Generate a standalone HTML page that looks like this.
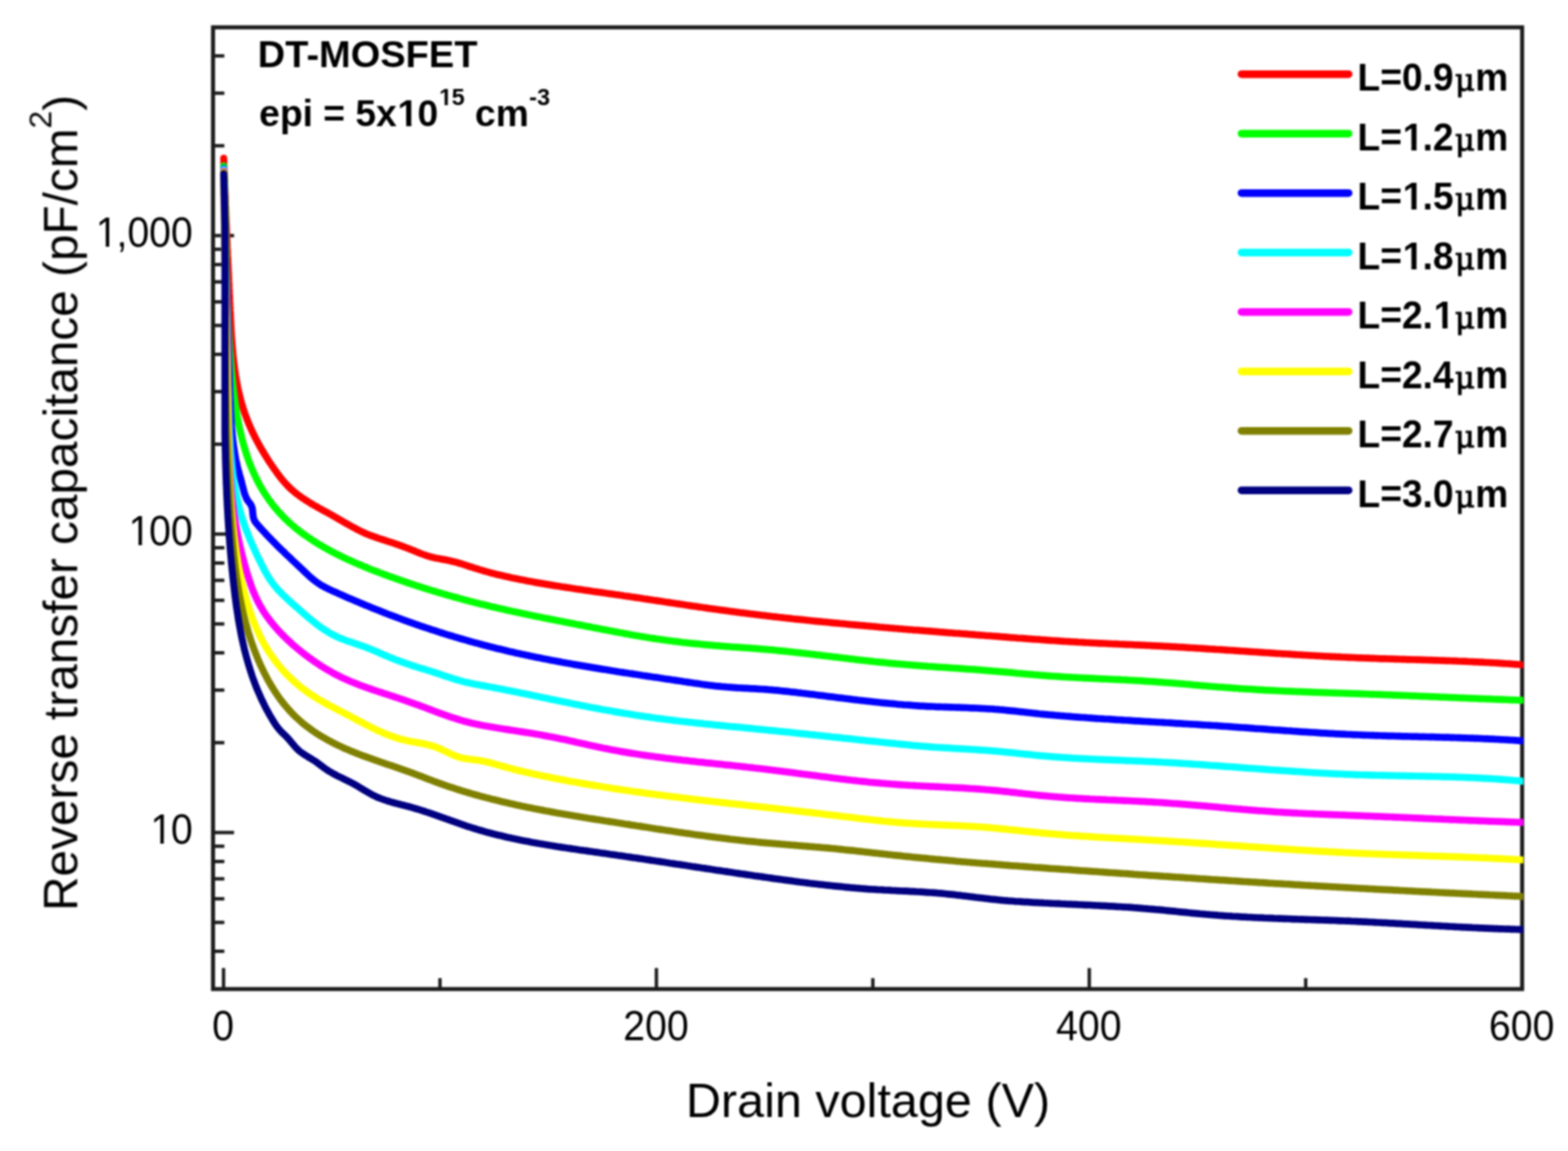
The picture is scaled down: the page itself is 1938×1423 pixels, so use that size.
<!DOCTYPE html>
<html lang="en"><head><meta charset="utf-8"><title>Reverse transfer capacitance vs drain voltage</title>
<style>html,body{margin:0;padding:0;background:#fff;}body{width:1938px;height:1423px;overflow:hidden;}svg{display:block;}text{font-family:"Liberation Sans",Arial,Helvetica,sans-serif;fill:#000;}.b{font-weight:bold;}.mu{font-family:"DejaVu Serif","Liberation Serif",serif;font-weight:normal;stroke:#000;stroke-width:1px;}</style></head><body>
<svg width="1938" height="1423" viewBox="0 0 1938 1423" role="img" aria-label="Reverse transfer capacitance versus drain voltage for DT-MOSFET">
<defs><clipPath id="pc"><rect x="260.8" y="31.3" width="1622.0" height="1194.0"/></clipPath><filter id="bl" x="-2%" y="-2%" width="104%" height="104%" color-interpolation-filters="sRGB"><feGaussianBlur stdDeviation="1.25"/></filter></defs>
<rect width="1938" height="1423" fill="#fff"/>
<g filter="url(#bl)">
<rect x="263.3" y="33.8" width="1618.0" height="1189.0" fill="none" stroke="#1c1c1c" stroke-width="5.0"/>
<g stroke="#1c1c1c" stroke-width="4.2" fill="none">
<line x1="276.3" y1="1222.8" x2="276.3" y2="1196.8"/>
<line x1="811.3" y1="1222.8" x2="811.3" y2="1196.8"/>
<line x1="1346.3" y1="1222.8" x2="1346.3" y2="1196.8"/>
<line x1="543.8" y1="1222.8" x2="543.8" y2="1209.3"/>
<line x1="1078.8" y1="1222.8" x2="1078.8" y2="1209.3"/>
<line x1="1613.8" y1="1222.8" x2="1613.8" y2="1209.3"/>
<line x1="263.3" y1="1029.3" x2="289.3" y2="1029.3"/>
<line x1="263.3" y1="660.3" x2="289.3" y2="660.3"/>
<line x1="263.3" y1="291.3" x2="289.3" y2="291.3"/>
<line x1="263.3" y1="1176.1" x2="277.3" y2="1176.1"/>
<line x1="263.3" y1="1140.4" x2="277.3" y2="1140.4"/>
<line x1="263.3" y1="1111.2" x2="277.3" y2="1111.2"/>
<line x1="263.3" y1="1086.5" x2="277.3" y2="1086.5"/>
<line x1="263.3" y1="1065.1" x2="277.3" y2="1065.1"/>
<line x1="263.3" y1="1046.2" x2="277.3" y2="1046.2"/>
<line x1="263.3" y1="918.2" x2="277.3" y2="918.2"/>
<line x1="263.3" y1="853.2" x2="277.3" y2="853.2"/>
<line x1="263.3" y1="807.1" x2="277.3" y2="807.1"/>
<line x1="263.3" y1="771.4" x2="277.3" y2="771.4"/>
<line x1="263.3" y1="742.2" x2="277.3" y2="742.2"/>
<line x1="263.3" y1="717.5" x2="277.3" y2="717.5"/>
<line x1="263.3" y1="696.1" x2="277.3" y2="696.1"/>
<line x1="263.3" y1="677.2" x2="277.3" y2="677.2"/>
<line x1="263.3" y1="549.2" x2="277.3" y2="549.2"/>
<line x1="263.3" y1="484.2" x2="277.3" y2="484.2"/>
<line x1="263.3" y1="438.1" x2="277.3" y2="438.1"/>
<line x1="263.3" y1="402.4" x2="277.3" y2="402.4"/>
<line x1="263.3" y1="373.2" x2="277.3" y2="373.2"/>
<line x1="263.3" y1="348.5" x2="277.3" y2="348.5"/>
<line x1="263.3" y1="327.1" x2="277.3" y2="327.1"/>
<line x1="263.3" y1="308.2" x2="277.3" y2="308.2"/>
<line x1="263.3" y1="180.2" x2="277.3" y2="180.2"/>
<line x1="263.3" y1="115.2" x2="277.3" y2="115.2"/>
<line x1="263.3" y1="69.1" x2="277.3" y2="69.1"/>
</g>
<g font-size="48.5">
<text transform="translate(236.7 1042.9) scale(1 1.05)" text-anchor="end"><tspan class="o" dx="1.6">1</tspan><tspan dx="-1.6">0</tspan></text>
<text transform="translate(236.7 673.9) scale(1 1.05)" text-anchor="end"><tspan class="o" dx="1.6">1</tspan><tspan dx="-1.6">00</tspan></text>
<text transform="translate(236.7 304.9) scale(1 1.05)" text-anchor="end"><tspan class="o" dx="1.6">1</tspan><tspan dx="-1.6">,000</tspan></text>
<text transform="translate(275.7 1286.3) scale(1 1.05)" text-anchor="middle">0</text>
<text transform="translate(810.7 1286.3) scale(1 1.05)" text-anchor="middle">200</text>
<text transform="translate(1345.7 1286.3) scale(1 1.05)" text-anchor="middle">400</text>
<text transform="translate(1880.7 1286.3) scale(1 1.05)" text-anchor="middle">600</text>
</g>
<text x="1072.8" y="1380.8" font-size="60" text-anchor="middle">Drain voltage (V)</text>
<text transform="translate(95.4 1126.2) rotate(-90)" font-size="59">Reverse transfer capacitance (pF/cm<tspan font-size="39.5" dy="-32">2</tspan><tspan dy="32">)</tspan></text>
<text class="b" x="318.6" y="83.3" font-size="47">DT-MOSFET</text>
<text class="b" x="320.3" y="155.9" font-size="46">epi = 5x<tspan class="o" dx="1">1</tspan><tspan dx="-1">0</tspan><tspan class="o" font-size="29" dy="-26" dx="1.2">1</tspan><tspan font-size="29" dx="-0.7">5</tspan><tspan dy="26"> cm</tspan><tspan font-size="29" dy="-26" dx="0.5">-3</tspan></text>
<g clip-path="url(#pc)" fill="none" stroke-width="8.7" stroke-linejoin="round" stroke-linecap="round">
<path stroke="#ff0000" d="M276.5 195.5L276.6 198.5L276.7 201.5L276.8 204.5L276.9 207.5L277.0 210.5L277.1 213.5L277.2 216.5L277.4 219.5L277.5 222.5L277.6 225.5L277.7 228.5L277.8 231.5L277.9 234.5L278.0 237.5L278.2 240.5L278.3 243.5L278.4 246.5L278.5 249.5L278.6 252.5L278.8 255.5L278.9 258.5L279.0 261.4L279.1 264.4L279.2 267.4L279.4 270.4L279.5 273.4L279.6 276.4L279.8 279.4L279.9 282.3L280.0 285.3L280.1 288.3L280.3 291.3L280.4 294.3L280.5 297.3L280.7 300.2L280.8 303.2L280.9 306.2L281.1 309.2L281.2 312.2L281.3 315.2L281.5 318.1L281.6 321.1L281.7 324.1L281.9 327.1L282.0 330.1L282.1 333.1L282.3 336.1L282.4 339.1L282.6 342.0L282.7 345.0L282.8 348.0L283.0 351.0L283.1 354.0L283.2 357.0L283.4 360.0L283.5 363.0L283.7 366.0L283.8 369.0L283.9 372.0L284.1 375.0L284.2 378.0L284.4 381.0L284.5 384.0L284.7 387.0L284.8 390.1L284.9 393.1L285.1 396.1L285.2 399.1L285.4 402.1L285.6 405.1L285.7 408.1L285.9 411.1L286.1 414.2L286.3 417.2L286.5 420.2L286.7 423.2L286.9 426.2L287.2 429.2L287.4 432.2L287.7 435.2L288.0 438.2L288.2 441.2L288.6 444.2L288.9 447.1L289.2 450.1L289.6 453.1L290.0 456.1L290.4 459.0L290.9 462.0L291.3 464.9L291.8 467.9L292.3 470.8L292.9 473.7L293.4 476.7L294.0 479.6L294.6 482.5L295.3 485.4L296.0 488.3L296.7 491.2L297.4 494.1L298.2 496.9L299.0 499.8L299.9 502.6L300.7 505.5L301.7 508.3L302.6 511.1L303.6 513.9L304.7 516.7L305.7 519.5L306.9 522.3L308.0 525.1L309.2 527.8L310.4 530.6L311.7 533.3L313.0 536.0L314.3 538.7L315.6 541.4L317.0 544.1L318.4 546.7L319.9 549.4L321.3 552.0L322.8 554.6L324.4 557.3L325.9 559.8L327.5 562.4L329.1 565.0L330.7 567.5L332.3 570.1L334.0 572.6L335.7 575.1L337.4 577.6L339.1 580.1L340.9 582.5L342.6 584.9L344.4 587.4L346.2 589.7L348.1 592.1L350.0 594.4L351.9 596.6L353.9 598.8L355.9 601.0L358.0 603.0L360.2 605.1L362.4 607.0L364.7 608.9L367.0 610.8L369.4 612.5L371.8 614.3L374.3 616.0L376.8 617.6L379.3 619.3L381.9 620.9L384.4 622.4L387.0 624.0L389.7 625.5L392.3 627.0L394.9 628.5L397.6 629.9L400.2 631.4L402.9 632.8L405.5 634.3L408.2 635.8L410.8 637.2L413.4 638.7L416.0 640.2L418.6 641.7L421.2 643.2L423.8 644.7L426.3 646.2L428.9 647.7L431.5 649.1L434.1 650.6L436.7 652.0L439.4 653.4L442.0 654.8L444.7 656.1L447.4 657.5L450.1 658.7L452.8 659.9L455.6 661.1L458.4 662.2L461.2 663.2L464.0 664.2L466.8 665.2L469.7 666.1L472.5 667.0L475.4 667.9L478.2 668.9L481.1 669.8L483.9 670.7L486.8 671.7L489.6 672.6L492.5 673.6L495.3 674.6L498.1 675.6L500.9 676.7L503.7 677.8L506.5 678.9L509.3 680.0L512.1 681.1L514.8 682.3L517.6 683.4L520.4 684.5L523.2 685.5L526.0 686.5L528.8 687.4L531.7 688.3L534.5 689.0L537.4 689.7L540.4 690.3L543.3 690.8L546.2 691.4L549.2 691.9L552.1 692.4L555.0 693.0L557.9 693.7L560.8 694.4L563.7 695.1L566.6 696.0L569.4 696.8L572.3 697.7L575.1 698.6L578.0 699.6L580.8 700.5L583.7 701.4L586.6 702.3L589.4 703.2L592.3 704.1L595.1 704.9L598.0 705.8L600.9 706.6L603.8 707.4L606.7 708.2L609.6 708.9L612.5 709.7L615.4 710.4L618.3 711.1L621.2 711.8L624.2 712.5L627.1 713.1L630.0 713.8L633.0 714.4L635.9 715.0L638.8 715.6L641.8 716.2L644.7 716.8L647.7 717.3L650.6 717.9L653.6 718.5L656.5 719.0L659.5 719.6L662.4 720.1L665.4 720.6L668.3 721.1L671.3 721.6L674.2 722.1L677.2 722.6L680.1 723.1L683.1 723.6L686.0 724.1L689.0 724.5L692.0 725.0L694.9 725.5L697.9 725.9L700.8 726.4L703.8 726.8L706.8 727.3L709.7 727.7L712.7 728.2L715.7 728.6L718.6 729.0L721.6 729.5L724.6 729.9L727.5 730.3L730.5 730.7L733.5 731.2L736.4 731.6L739.4 732.0L742.4 732.4L745.3 732.8L748.3 733.3L751.3 733.7L754.2 734.1L757.2 734.5L760.2 735.0L763.1 735.4L766.1 735.8L769.0 736.2L772.0 736.7L775.0 737.1L777.9 737.5L780.9 738.0L783.9 738.4L786.8 738.9L789.8 739.3L792.8 739.7L795.7 740.2L798.7 740.6L801.7 741.1L804.6 741.5L807.6 742.0L810.6 742.4L813.5 742.9L816.5 743.3L819.4 743.7L822.4 744.2L825.4 744.6L828.3 745.1L831.3 745.5L834.3 746.0L837.2 746.4L840.2 746.9L843.2 747.3L846.1 747.7L849.1 748.2L852.1 748.6L855.0 749.1L858.0 749.5L861.0 749.9L863.9 750.4L866.9 750.8L869.9 751.2L872.8 751.6L875.8 752.1L878.8 752.5L881.7 752.9L884.7 753.3L887.7 753.7L890.6 754.1L893.6 754.5L896.6 754.9L899.5 755.3L902.5 755.7L905.5 756.1L908.5 756.5L911.4 756.9L914.4 757.3L917.4 757.6L920.3 758.0L923.3 758.4L926.3 758.8L929.3 759.1L932.2 759.5L935.2 759.9L938.2 760.2L941.2 760.6L944.1 760.9L947.1 761.3L950.1 761.6L953.1 762.0L956.1 762.3L959.0 762.6L962.0 763.0L965.0 763.3L968.0 763.7L970.9 764.0L973.9 764.3L976.9 764.6L979.9 765.0L982.9 765.3L985.8 765.6L988.8 765.9L991.8 766.2L994.8 766.5L997.8 766.8L1000.7 767.2L1003.7 767.5L1006.7 767.8L1009.7 768.1L1012.7 768.4L1015.6 768.7L1018.6 769.0L1021.6 769.2L1024.6 769.5L1027.6 769.8L1030.6 770.1L1033.5 770.4L1036.5 770.7L1039.5 771.0L1042.5 771.2L1045.5 771.5L1048.5 771.8L1051.4 772.1L1054.4 772.3L1057.4 772.6L1060.4 772.9L1063.4 773.2L1066.4 773.4L1069.4 773.7L1072.3 774.0L1075.3 774.2L1078.3 774.5L1081.3 774.7L1084.3 775.0L1087.3 775.3L1090.3 775.5L1093.2 775.8L1096.2 776.0L1099.2 776.3L1102.2 776.5L1105.2 776.8L1108.2 777.0L1111.2 777.3L1114.1 777.5L1117.1 777.8L1120.1 778.0L1123.1 778.3L1126.1 778.5L1129.1 778.8L1132.1 779.0L1135.1 779.2L1138.0 779.5L1141.0 779.7L1144.0 780.0L1147.0 780.2L1150.0 780.4L1153.0 780.7L1156.0 780.9L1159.0 781.1L1162.0 781.4L1164.9 781.6L1167.9 781.8L1170.9 782.1L1173.9 782.3L1176.9 782.5L1179.9 782.8L1182.9 783.0L1185.9 783.2L1188.8 783.5L1191.8 783.7L1194.8 783.9L1197.8 784.2L1200.8 784.4L1203.8 784.6L1206.8 784.9L1209.8 785.1L1212.8 785.3L1215.7 785.5L1218.7 785.8L1221.7 786.0L1224.7 786.2L1227.7 786.5L1230.7 786.7L1233.7 786.9L1236.7 787.2L1239.6 787.4L1242.6 787.6L1245.6 787.8L1248.6 788.1L1251.6 788.3L1254.6 788.5L1257.6 788.8L1260.6 789.0L1263.6 789.2L1266.5 789.4L1269.5 789.7L1272.5 789.9L1275.5 790.1L1278.5 790.3L1281.5 790.5L1284.5 790.7L1287.5 791.0L1290.5 791.2L1293.4 791.4L1296.4 791.6L1299.4 791.8L1302.4 792.0L1305.4 792.2L1308.4 792.4L1311.4 792.6L1314.4 792.8L1317.4 793.0L1320.4 793.1L1323.3 793.3L1326.3 793.5L1329.3 793.7L1332.3 793.9L1335.3 794.0L1338.3 794.2L1341.3 794.4L1344.3 794.5L1347.3 794.7L1350.3 794.8L1353.3 795.0L1356.3 795.1L1359.2 795.3L1362.2 795.4L1365.2 795.5L1368.2 795.7L1371.2 795.8L1374.2 796.0L1377.2 796.1L1380.2 796.2L1383.2 796.4L1386.2 796.5L1389.2 796.6L1392.2 796.8L1395.2 796.9L1398.2 797.0L1401.2 797.2L1404.1 797.3L1407.1 797.4L1410.1 797.6L1413.1 797.7L1416.1 797.8L1419.1 798.0L1422.1 798.1L1425.1 798.3L1428.1 798.4L1431.1 798.6L1434.1 798.7L1437.1 798.9L1440.1 799.1L1443.0 799.2L1446.0 799.4L1449.0 799.6L1452.0 799.7L1455.0 799.9L1458.0 800.1L1461.0 800.2L1464.0 800.4L1467.0 800.6L1470.0 800.8L1473.0 801.0L1476.0 801.1L1478.9 801.3L1481.9 801.5L1484.9 801.7L1487.9 801.9L1490.9 802.1L1493.9 802.3L1496.9 802.5L1499.9 802.7L1502.9 802.9L1505.9 803.0L1508.8 803.2L1511.8 803.4L1514.8 803.6L1517.8 803.8L1520.8 804.0L1523.8 804.2L1526.8 804.4L1529.8 804.6L1532.8 804.8L1535.8 805.0L1538.8 805.2L1541.7 805.4L1544.7 805.6L1547.7 805.8L1550.7 806.0L1553.7 806.2L1556.7 806.4L1559.7 806.6L1562.7 806.8L1565.7 807.0L1568.7 807.2L1571.6 807.4L1574.6 807.6L1577.6 807.8L1580.6 808.0L1583.6 808.2L1586.6 808.3L1589.6 808.5L1592.6 808.7L1595.6 808.9L1598.6 809.1L1601.6 809.3L1604.5 809.5L1607.5 809.6L1610.5 809.8L1613.5 810.0L1616.5 810.2L1619.5 810.3L1622.5 810.5L1625.5 810.7L1628.5 810.8L1631.5 811.0L1634.5 811.2L1637.5 811.3L1640.5 811.5L1643.4 811.6L1646.4 811.8L1649.4 811.9L1652.4 812.1L1655.4 812.2L1658.4 812.4L1661.4 812.5L1664.4 812.6L1667.4 812.8L1670.4 812.9L1673.4 813.0L1676.4 813.2L1679.4 813.3L1682.4 813.4L1685.4 813.5L1688.4 813.6L1691.4 813.7L1694.4 813.8L1697.3 813.9L1700.3 814.0L1703.3 814.2L1706.3 814.3L1709.3 814.3L1712.3 814.4L1715.3 814.5L1718.3 814.6L1721.3 814.7L1724.3 814.8L1727.3 814.9L1730.3 815.0L1733.3 815.1L1736.3 815.2L1739.3 815.3L1742.3 815.4L1745.3 815.5L1748.3 815.5L1751.3 815.6L1754.3 815.7L1757.3 815.8L1760.3 815.9L1763.3 816.0L1766.3 816.1L1769.3 816.2L1772.3 816.3L1775.3 816.4L1778.3 816.5L1781.2 816.6L1784.2 816.7L1787.2 816.8L1790.2 816.9L1793.2 817.0L1796.2 817.1L1799.2 817.2L1802.2 817.4L1805.2 817.5L1808.2 817.6L1811.2 817.7L1814.2 817.9L1817.2 818.0L1820.2 818.1L1823.2 818.3L1826.2 818.4L1829.2 818.6L1832.2 818.7L1835.1 818.9L1838.1 819.0L1841.1 819.2L1844.1 819.3L1847.1 819.5L1850.1 819.7L1853.1 819.9L1856.1 820.1L1859.1 820.3L1862.1 820.5L1865.1 820.7L1868.1 820.9L1871.0 821.1L1874.0 821.3L1877.0 821.5L1880.0 821.8L1883.0 822.0"/>
<path stroke="#00ff00" d="M276.5 205.0L276.6 208.0L276.7 211.0L276.9 214.0L277.0 217.0L277.1 220.0L277.2 223.0L277.3 226.0L277.4 229.0L277.5 232.0L277.6 235.0L277.7 238.0L277.8 241.0L277.8 244.0L277.9 247.0L278.0 250.0L278.1 253.0L278.1 256.0L278.2 258.9L278.3 261.9L278.4 264.9L278.4 267.9L278.5 270.9L278.6 273.9L278.6 276.9L278.7 279.9L278.7 282.9L278.8 285.9L278.9 288.9L278.9 291.9L279.0 294.9L279.0 297.9L279.1 300.9L279.2 303.9L279.2 306.9L279.3 309.9L279.3 312.9L279.4 315.9L279.5 318.9L279.5 321.9L279.6 324.9L279.7 327.9L279.7 330.9L279.8 333.9L279.9 336.9L280.0 339.9L280.0 342.9L280.1 345.9L280.2 348.9L280.3 351.9L280.4 354.9L280.4 357.9L280.5 360.9L280.6 363.9L280.7 366.9L280.8 369.9L280.9 372.9L281.0 375.9L281.2 378.9L281.3 381.9L281.4 384.9L281.5 387.9L281.7 390.9L281.8 393.9L281.9 396.9L282.1 399.9L282.2 402.9L282.4 405.8L282.5 408.8L282.7 411.8L282.9 414.8L283.0 417.8L283.2 420.8L283.4 423.8L283.6 426.8L283.8 429.8L284.0 432.8L284.2 435.8L284.5 438.7L284.7 441.7L284.9 444.7L285.2 447.7L285.4 450.7L285.7 453.7L285.9 456.7L286.2 459.7L286.5 462.6L286.8 465.6L287.1 468.6L287.4 471.6L287.7 474.6L288.0 477.5L288.4 480.5L288.7 483.5L289.1 486.5L289.4 489.5L289.8 492.4L290.2 495.4L290.6 498.4L291.0 501.3L291.5 504.3L291.9 507.3L292.4 510.2L292.9 513.2L293.4 516.1L294.0 519.1L294.5 522.0L295.1 525.0L295.7 527.9L296.3 530.9L297.0 533.8L297.7 536.7L298.4 539.6L299.1 542.5L299.9 545.5L300.7 548.4L301.5 551.3L302.3 554.2L303.2 557.0L304.1 559.9L305.0 562.8L306.0 565.6L307.0 568.5L308.0 571.3L309.1 574.1L310.2 576.9L311.4 579.7L312.5 582.4L313.8 585.2L315.0 587.9L316.3 590.6L317.6 593.3L319.0 596.0L320.4 598.6L321.8 601.2L323.3 603.8L324.9 606.4L326.4 608.9L328.1 611.4L329.7 613.9L331.4 616.4L333.1 618.8L334.9 621.2L336.7 623.6L338.6 625.9L340.5 628.2L342.4 630.5L344.3 632.7L346.3 634.9L348.4 637.1L350.5 639.3L352.6 641.4L354.7 643.4L356.9 645.5L359.1 647.5L361.4 649.4L363.6 651.4L365.9 653.3L368.3 655.2L370.6 657.0L373.0 658.8L375.5 660.6L377.9 662.3L380.4 664.0L382.9 665.7L385.4 667.4L387.9 669.0L390.4 670.6L393.0 672.2L395.6 673.8L398.2 675.3L400.8 676.8L403.4 678.3L406.1 679.7L408.7 681.2L411.4 682.6L414.0 684.0L416.7 685.3L419.4 686.7L422.1 688.0L424.8 689.3L427.5 690.6L430.2 691.9L433.0 693.1L435.7 694.3L438.4 695.6L441.2 696.8L443.9 697.9L446.7 699.1L449.5 700.3L452.2 701.4L455.0 702.5L457.8 703.7L460.6 704.8L463.4 705.8L466.2 706.9L469.0 708.0L471.8 709.0L474.6 710.1L477.4 711.1L480.2 712.2L483.0 713.2L485.8 714.2L488.6 715.2L491.5 716.2L494.3 717.2L497.1 718.2L500.0 719.1L502.8 720.1L505.6 721.1L508.5 722.0L511.3 722.9L514.2 723.9L517.0 724.8L519.9 725.7L522.7 726.6L525.6 727.5L528.5 728.4L531.3 729.3L534.2 730.2L537.1 731.0L539.9 731.9L542.8 732.8L545.7 733.6L548.6 734.4L551.4 735.3L554.3 736.1L557.2 736.9L560.1 737.7L563.0 738.5L565.9 739.3L568.8 740.1L571.7 740.9L574.6 741.7L577.5 742.4L580.4 743.2L583.3 743.9L586.2 744.7L589.1 745.4L592.0 746.2L594.9 746.9L597.8 747.6L600.7 748.3L603.6 749.0L606.6 749.7L609.5 750.4L612.4 751.1L615.3 751.8L618.2 752.4L621.2 753.1L624.1 753.7L627.0 754.4L629.9 755.1L632.9 755.7L635.8 756.3L638.7 757.0L641.7 757.6L644.6 758.2L647.5 758.8L650.5 759.5L653.4 760.1L656.3 760.7L659.3 761.3L662.2 761.9L665.1 762.5L668.1 763.1L671.0 763.7L674.0 764.3L676.9 764.9L679.8 765.4L682.8 766.0L685.7 766.6L688.7 767.2L691.6 767.8L694.6 768.3L697.5 768.9L700.4 769.5L703.4 770.1L706.3 770.6L709.3 771.2L712.2 771.8L715.2 772.4L718.1 772.9L721.1 773.5L724.0 774.1L727.0 774.6L729.9 775.2L732.8 775.8L735.8 776.4L738.7 776.9L741.7 777.5L744.6 778.1L747.6 778.6L750.5 779.2L753.5 779.8L756.4 780.3L759.4 780.9L762.3 781.4L765.3 782.0L768.2 782.5L771.2 783.1L774.1 783.6L777.1 784.2L780.0 784.7L783.0 785.2L785.9 785.7L788.9 786.2L791.8 786.7L794.8 787.2L797.7 787.7L800.7 788.2L803.7 788.7L806.6 789.1L809.6 789.6L812.5 790.0L815.5 790.5L818.5 790.9L821.4 791.3L824.4 791.7L827.4 792.1L830.4 792.5L833.3 792.9L836.3 793.2L839.3 793.6L842.3 794.0L845.2 794.3L848.2 794.7L851.2 795.0L854.2 795.3L857.2 795.6L860.1 795.9L863.1 796.2L866.1 796.5L869.1 796.8L872.1 797.1L875.1 797.4L878.0 797.6L881.0 797.9L884.0 798.2L887.0 798.4L890.0 798.6L893.0 798.9L896.0 799.1L899.0 799.3L902.0 799.5L905.0 799.8L907.9 800.0L910.9 800.2L913.9 800.4L916.9 800.6L919.9 800.8L922.9 801.0L925.9 801.2L928.9 801.5L931.9 801.7L934.9 801.9L937.9 802.2L940.9 802.4L943.8 802.7L946.8 802.9L949.8 803.2L952.8 803.4L955.8 803.7L958.8 804.0L961.8 804.3L964.7 804.6L967.7 804.9L970.7 805.2L973.7 805.5L976.7 805.8L979.7 806.2L982.6 806.5L985.6 806.8L988.6 807.1L991.6 807.5L994.6 807.8L997.5 808.2L1000.5 808.5L1003.5 808.9L1006.5 809.2L1009.5 809.6L1012.4 809.9L1015.4 810.3L1018.4 810.6L1021.4 811.0L1024.3 811.4L1027.3 811.7L1030.3 812.1L1033.3 812.4L1036.3 812.8L1039.2 813.2L1042.2 813.5L1045.2 813.9L1048.2 814.2L1051.1 814.6L1054.1 814.9L1057.1 815.3L1060.1 815.6L1063.1 816.0L1066.0 816.3L1069.0 816.7L1072.0 817.0L1075.0 817.3L1078.0 817.6L1080.9 818.0L1083.9 818.3L1086.9 818.6L1089.9 818.9L1092.9 819.2L1095.8 819.5L1098.8 819.8L1101.8 820.1L1104.8 820.4L1107.8 820.7L1110.8 820.9L1113.8 821.2L1116.7 821.4L1119.7 821.7L1122.7 821.9L1125.7 822.2L1128.7 822.4L1131.7 822.7L1134.7 822.9L1137.7 823.1L1140.6 823.3L1143.6 823.5L1146.6 823.8L1149.6 824.0L1152.6 824.2L1155.6 824.4L1158.6 824.6L1161.6 824.8L1164.6 825.0L1167.6 825.2L1170.6 825.4L1173.5 825.6L1176.5 825.8L1179.5 826.0L1182.5 826.2L1185.5 826.4L1188.5 826.6L1191.5 826.9L1194.5 827.1L1197.5 827.3L1200.5 827.5L1203.5 827.7L1206.5 827.9L1209.4 828.1L1212.4 828.4L1215.4 828.6L1218.4 828.8L1221.4 829.1L1224.4 829.3L1227.4 829.6L1230.4 829.8L1233.4 830.1L1236.3 830.3L1239.3 830.6L1242.3 830.9L1245.3 831.2L1248.3 831.4L1251.3 831.7L1254.3 832.0L1257.3 832.3L1260.2 832.5L1263.2 832.8L1266.2 833.1L1269.2 833.4L1272.2 833.6L1275.2 833.9L1278.2 834.2L1281.2 834.4L1284.1 834.7L1287.1 834.9L1290.1 835.1L1293.1 835.4L1296.1 835.6L1299.1 835.8L1302.1 836.0L1305.1 836.2L1308.1 836.4L1311.1 836.6L1314.0 836.8L1317.0 837.0L1320.0 837.2L1323.0 837.3L1326.0 837.5L1329.0 837.6L1332.0 837.8L1335.0 838.0L1338.0 838.1L1341.0 838.3L1344.0 838.4L1347.0 838.6L1350.0 838.7L1353.0 838.8L1356.0 839.0L1359.0 839.1L1362.0 839.3L1364.9 839.4L1367.9 839.5L1370.9 839.7L1373.9 839.8L1376.9 840.0L1379.9 840.1L1382.9 840.2L1385.9 840.4L1388.9 840.5L1391.9 840.7L1394.9 840.9L1397.9 841.0L1400.9 841.2L1403.9 841.3L1406.9 841.5L1409.9 841.7L1412.9 841.9L1415.8 842.1L1418.8 842.3L1421.8 842.5L1424.8 842.7L1427.8 842.9L1430.8 843.1L1433.8 843.3L1436.8 843.5L1439.8 843.8L1442.8 844.0L1445.7 844.2L1448.7 844.5L1451.7 844.7L1454.7 845.0L1457.7 845.2L1460.7 845.5L1463.7 845.7L1466.7 846.0L1469.7 846.2L1472.6 846.5L1475.6 846.8L1478.6 847.0L1481.6 847.3L1484.6 847.5L1487.6 847.8L1490.6 848.0L1493.6 848.3L1496.5 848.5L1499.5 848.8L1502.5 849.0L1505.5 849.3L1508.5 849.5L1511.5 849.7L1514.5 850.0L1517.5 850.2L1520.5 850.4L1523.4 850.6L1526.4 850.8L1529.4 851.0L1532.4 851.3L1535.4 851.5L1538.4 851.7L1541.4 851.8L1544.4 852.0L1547.4 852.2L1550.4 852.4L1553.4 852.6L1556.4 852.8L1559.4 852.9L1562.4 853.1L1565.3 853.3L1568.3 853.4L1571.3 853.6L1574.3 853.7L1577.3 853.9L1580.3 854.0L1583.3 854.2L1586.3 854.3L1589.3 854.5L1592.3 854.6L1595.3 854.7L1598.3 854.8L1601.3 855.0L1604.3 855.1L1607.3 855.2L1610.3 855.3L1613.3 855.4L1616.3 855.6L1619.3 855.7L1622.3 855.8L1625.3 855.9L1628.3 856.0L1631.3 856.1L1634.3 856.2L1637.3 856.3L1640.3 856.4L1643.3 856.5L1646.3 856.6L1649.3 856.7L1652.3 856.8L1655.3 856.9L1658.2 857.0L1661.2 857.1L1664.2 857.2L1667.2 857.3L1670.2 857.4L1673.2 857.5L1676.2 857.6L1679.2 857.7L1682.2 857.8L1685.2 857.9L1688.2 858.0L1691.2 858.2L1694.2 858.3L1697.2 858.4L1700.2 858.5L1703.2 858.6L1706.2 858.7L1709.2 858.8L1712.2 859.0L1715.2 859.1L1718.2 859.2L1721.2 859.3L1724.2 859.4L1727.2 859.6L1730.2 859.7L1733.2 859.8L1736.2 859.9L1739.2 860.0L1742.2 860.2L1745.2 860.3L1748.2 860.4L1751.1 860.5L1754.1 860.7L1757.1 860.8L1760.1 860.9L1763.1 861.0L1766.1 861.2L1769.1 861.3L1772.1 861.4L1775.1 861.5L1778.1 861.7L1781.1 861.8L1784.1 861.9L1787.1 862.0L1790.1 862.2L1793.1 862.3L1796.1 862.4L1799.1 862.5L1802.1 862.7L1805.1 862.8L1808.1 862.9L1811.1 863.0L1814.1 863.2L1817.1 863.3L1820.1 863.4L1823.1 863.5L1826.1 863.6L1829.1 863.8L1832.0 863.9L1835.0 864.0L1838.0 864.1L1841.0 864.2L1844.0 864.4L1847.0 864.5L1850.0 864.6L1853.0 864.7L1856.0 864.8L1859.0 864.9L1862.0 865.0L1865.0 865.2L1868.0 865.3L1871.0 865.4L1874.0 865.5L1877.0 865.6L1880.0 865.7L1883.0 865.8"/>
<path stroke="#0000ff" d="M276.5 208.0L276.5 211.0L276.6 214.0L276.6 217.0L276.7 220.0L276.7 223.0L276.8 226.0L276.8 229.0L276.9 232.0L276.9 235.0L277.0 238.0L277.1 241.0L277.1 244.0L277.2 247.0L277.2 250.0L277.3 253.0L277.4 256.0L277.4 259.0L277.5 262.0L277.6 265.0L277.6 268.0L277.7 271.0L277.8 274.0L277.8 277.0L277.9 280.0L278.0 283.0L278.1 286.0L278.1 289.0L278.2 292.0L278.3 295.0L278.4 298.0L278.4 301.0L278.5 304.0L278.6 307.0L278.7 310.0L278.8 313.0L278.8 316.0L278.9 319.0L279.0 321.9L279.1 324.9L279.2 327.9L279.3 330.9L279.3 333.9L279.4 336.9L279.5 339.9L279.6 342.9L279.7 345.9L279.8 348.9L279.9 351.9L280.0 354.9L280.1 357.9L280.1 360.8L280.2 363.8L280.3 366.8L280.4 369.8L280.5 372.8L280.6 375.8L280.7 378.8L280.8 381.8L280.9 384.8L281.0 387.8L281.1 390.8L281.2 393.8L281.3 396.8L281.4 399.8L281.5 402.8L281.6 405.8L281.6 408.8L281.7 411.8L281.8 414.8L281.9 417.8L282.0 420.7L282.1 423.7L282.2 426.7L282.3 429.7L282.4 432.7L282.5 435.7L282.6 438.7L282.7 441.7L282.8 444.7L282.9 447.7L283.0 450.8L283.1 453.8L283.2 456.8L283.3 459.8L283.4 462.8L283.5 465.8L283.6 468.8L283.7 471.8L283.8 474.8L283.9 477.8L283.9 480.8L284.0 483.8L284.1 486.8L284.2 489.8L284.3 492.8L284.4 495.9L284.6 498.9L284.7 501.9L284.8 504.9L284.9 507.9L285.1 510.9L285.2 513.9L285.4 516.9L285.6 519.9L285.8 522.9L286.0 525.9L286.2 528.9L286.5 531.8L286.8 534.8L287.0 537.8L287.4 540.8L287.7 543.7L288.1 546.7L288.4 549.7L288.9 552.6L289.3 555.6L289.8 558.5L290.3 561.4L290.8 564.4L291.3 567.3L291.9 570.2L292.6 573.1L293.2 576.0L293.9 578.9L294.7 581.8L295.5 584.7L296.2 587.6L297.1 590.5L297.9 593.4L298.7 596.3L299.4 599.3L300.2 602.2L300.9 605.2L301.7 608.2L302.6 611.1L303.6 613.9L304.8 616.5L306.2 619.0L308.0 621.2L309.7 623.4L311.0 625.9L311.8 628.6L312.2 631.6L312.5 634.7L312.8 637.7L313.4 640.7L314.4 643.4L316.0 645.9L317.9 648.2L319.8 650.5L321.8 652.7L323.8 654.9L325.8 657.1L327.9 659.3L329.9 661.5L332.0 663.7L334.1 665.8L336.2 668.0L338.3 670.1L340.4 672.2L342.5 674.4L344.6 676.5L346.8 678.6L348.9 680.6L351.1 682.7L353.2 684.8L355.4 686.9L357.6 688.9L359.8 691.0L361.9 693.1L364.1 695.1L366.3 697.2L368.5 699.3L370.7 701.3L372.9 703.4L375.1 705.5L377.2 707.5L379.4 709.6L381.6 711.7L383.8 713.7L386.1 715.6L388.4 717.5L390.8 719.3L393.2 721.0L395.7 722.7L398.3 724.2L400.9 725.6L403.6 727.0L406.3 728.3L409.0 729.6L411.7 730.9L414.5 732.1L417.3 733.3L420.0 734.6L422.8 735.8L425.5 737.0L428.3 738.2L431.0 739.4L433.8 740.6L436.5 741.8L439.3 742.9L442.0 744.1L444.8 745.3L447.5 746.4L450.3 747.6L453.1 748.7L455.9 749.8L458.6 751.0L461.4 752.1L464.2 753.2L467.0 754.3L469.8 755.4L472.5 756.5L475.3 757.6L478.1 758.7L480.9 759.8L483.7 760.8L486.5 761.9L489.3 762.9L492.2 764.0L495.0 765.0L497.8 766.1L500.6 767.1L503.4 768.1L506.2 769.1L509.1 770.1L511.9 771.1L514.7 772.1L517.6 773.1L520.4 774.1L523.2 775.0L526.1 776.0L528.9 776.9L531.8 777.9L534.6 778.8L537.5 779.7L540.3 780.7L543.2 781.6L546.0 782.5L548.9 783.4L551.8 784.3L554.6 785.2L557.5 786.0L560.4 786.9L563.3 787.8L566.1 788.6L569.0 789.5L571.9 790.3L574.8 791.1L577.6 791.9L580.5 792.8L583.4 793.6L586.3 794.4L589.2 795.1L592.1 795.9L595.0 796.7L597.9 797.5L600.8 798.2L603.7 799.0L606.6 799.7L609.5 800.4L612.4 801.2L615.3 801.9L618.2 802.6L621.1 803.3L624.1 804.0L627.0 804.7L629.9 805.4L632.8 806.0L635.7 806.7L638.7 807.4L641.6 808.0L644.5 808.7L647.4 809.3L650.4 809.9L653.3 810.5L656.2 811.2L659.2 811.8L662.1 812.4L665.0 813.0L668.0 813.6L670.9 814.2L673.9 814.8L676.8 815.3L679.7 815.9L682.7 816.5L685.6 817.0L688.6 817.6L691.5 818.1L694.5 818.7L697.4 819.2L700.4 819.8L703.3 820.3L706.3 820.8L709.2 821.4L712.2 821.9L715.1 822.4L718.1 822.9L721.0 823.4L724.0 823.9L727.0 824.4L729.9 824.9L732.9 825.4L735.8 825.9L738.8 826.4L741.8 826.9L744.7 827.4L747.7 827.8L750.6 828.3L753.6 828.8L756.6 829.3L759.5 829.7L762.5 830.2L765.5 830.7L768.4 831.1L771.4 831.6L774.4 832.0L777.3 832.5L780.3 832.9L783.3 833.4L786.2 833.8L789.2 834.3L792.2 834.7L795.1 835.2L798.1 835.6L801.1 836.1L804.0 836.5L807.0 837.0L810.0 837.4L812.9 837.8L815.9 838.3L818.9 838.7L821.8 839.2L824.8 839.6L827.8 840.0L830.7 840.5L833.7 840.9L836.7 841.4L839.6 841.8L842.6 842.2L845.6 842.7L848.5 843.1L851.5 843.6L854.4 844.0L857.4 844.5L860.4 844.9L863.3 845.3L866.3 845.8L869.3 846.2L872.2 846.6L875.2 847.0L878.2 847.4L881.1 847.7L884.1 848.1L887.1 848.4L890.1 848.7L893.1 849.0L896.0 849.2L899.0 849.5L902.0 849.7L905.0 849.9L908.0 850.1L911.0 850.3L914.0 850.5L917.0 850.6L920.0 850.8L923.0 850.9L926.0 851.1L929.0 851.3L932.0 851.4L935.0 851.6L938.0 851.8L941.0 852.0L944.0 852.2L947.0 852.4L950.0 852.7L953.0 852.9L955.9 853.2L958.9 853.4L961.9 853.7L964.9 854.0L967.9 854.3L970.9 854.6L973.8 854.9L976.8 855.3L979.8 855.6L982.8 855.9L985.8 856.3L988.7 856.6L991.7 857.0L994.7 857.3L997.7 857.7L1000.6 858.1L1003.6 858.4L1006.6 858.8L1009.6 859.2L1012.5 859.6L1015.5 859.9L1018.5 860.3L1021.5 860.7L1024.4 861.1L1027.4 861.4L1030.4 861.8L1033.4 862.2L1036.3 862.6L1039.3 862.9L1042.3 863.3L1045.3 863.7L1048.3 864.0L1051.2 864.4L1054.2 864.8L1057.2 865.1L1060.2 865.5L1063.2 865.8L1066.1 866.2L1069.1 866.5L1072.1 866.8L1075.1 867.2L1078.1 867.5L1081.0 867.8L1084.0 868.2L1087.0 868.5L1090.0 868.8L1093.0 869.1L1096.0 869.4L1098.9 869.7L1101.9 869.9L1104.9 870.2L1107.9 870.5L1110.9 870.8L1113.9 871.0L1116.9 871.3L1119.9 871.5L1122.8 871.7L1125.8 871.9L1128.8 872.2L1131.8 872.4L1134.8 872.6L1137.8 872.8L1140.8 872.9L1143.8 873.1L1146.8 873.3L1149.8 873.4L1152.8 873.5L1155.8 873.7L1158.8 873.8L1161.8 873.9L1164.7 874.0L1167.7 874.1L1170.7 874.2L1173.7 874.3L1176.7 874.4L1179.7 874.5L1182.7 874.6L1185.7 874.7L1188.7 874.8L1191.7 874.9L1194.7 875.0L1197.7 875.2L1200.7 875.3L1203.7 875.4L1206.7 875.5L1209.7 875.7L1212.7 875.8L1215.7 876.0L1218.7 876.2L1221.6 876.3L1224.6 876.5L1227.6 876.7L1230.6 877.0L1233.6 877.2L1236.6 877.5L1239.6 877.7L1242.6 878.0L1245.5 878.3L1248.5 878.6L1251.5 878.9L1254.5 879.2L1257.5 879.5L1260.5 879.9L1263.4 880.2L1266.4 880.5L1269.4 880.8L1272.4 881.2L1275.4 881.5L1278.4 881.8L1281.3 882.1L1284.3 882.5L1287.3 882.8L1290.3 883.1L1293.3 883.4L1296.3 883.7L1299.2 883.9L1302.2 884.2L1305.2 884.5L1308.2 884.7L1311.2 885.0L1314.2 885.2L1317.2 885.5L1320.2 885.7L1323.1 885.9L1326.1 886.2L1329.1 886.4L1332.1 886.6L1335.1 886.8L1338.1 887.0L1341.1 887.2L1344.1 887.5L1347.1 887.7L1350.1 887.9L1353.0 888.1L1356.0 888.3L1359.0 888.5L1362.0 888.7L1365.0 888.9L1368.0 889.0L1371.0 889.2L1374.0 889.4L1377.0 889.6L1380.0 889.8L1383.0 890.0L1386.0 890.2L1388.9 890.4L1391.9 890.5L1394.9 890.7L1397.9 890.9L1400.9 891.1L1403.9 891.3L1406.9 891.4L1409.9 891.6L1412.9 891.8L1415.9 892.0L1418.9 892.1L1421.9 892.3L1424.9 892.5L1427.9 892.7L1430.9 892.8L1433.8 893.0L1436.8 893.2L1439.8 893.4L1442.8 893.5L1445.8 893.7L1448.8 893.9L1451.8 894.1L1454.8 894.3L1457.8 894.4L1460.8 894.6L1463.8 894.8L1466.8 895.0L1469.8 895.2L1472.8 895.3L1475.8 895.5L1478.7 895.7L1481.7 895.9L1484.7 896.1L1487.7 896.3L1490.7 896.5L1493.7 896.6L1496.7 896.8L1499.7 897.0L1502.7 897.2L1505.7 897.4L1508.7 897.6L1511.7 897.8L1514.7 898.0L1517.6 898.2L1520.6 898.4L1523.6 898.7L1526.6 898.9L1529.6 899.1L1532.6 899.3L1535.6 899.5L1538.6 899.7L1541.6 899.9L1544.6 900.1L1547.5 900.3L1550.5 900.6L1553.5 900.8L1556.5 901.0L1559.5 901.2L1562.5 901.4L1565.5 901.6L1568.5 901.9L1571.5 902.1L1574.5 902.3L1577.5 902.5L1580.4 902.7L1583.4 902.9L1586.4 903.1L1589.4 903.3L1592.4 903.5L1595.4 903.7L1598.4 904.0L1601.4 904.2L1604.4 904.4L1607.4 904.6L1610.3 904.8L1613.3 904.9L1616.3 905.1L1619.3 905.3L1622.3 905.5L1625.3 905.7L1628.3 905.9L1631.3 906.1L1634.3 906.3L1637.3 906.4L1640.3 906.6L1643.3 906.8L1646.3 906.9L1649.3 907.1L1652.2 907.3L1655.2 907.4L1658.2 907.6L1661.2 907.7L1664.2 907.9L1667.2 908.0L1670.2 908.1L1673.2 908.3L1676.2 908.4L1679.2 908.5L1682.2 908.6L1685.2 908.8L1688.2 908.9L1691.2 909.0L1694.2 909.1L1697.2 909.2L1700.2 909.3L1703.2 909.4L1706.2 909.5L1709.2 909.6L1712.2 909.7L1715.2 909.8L1718.2 909.8L1721.2 909.9L1724.2 910.0L1727.2 910.1L1730.2 910.2L1733.2 910.3L1736.2 910.3L1739.2 910.4L1742.2 910.5L1745.2 910.6L1748.2 910.6L1751.2 910.7L1754.2 910.8L1757.2 910.9L1760.2 910.9L1763.2 911.0L1766.2 911.1L1769.2 911.2L1772.2 911.2L1775.2 911.3L1778.2 911.4L1781.2 911.5L1784.2 911.6L1787.2 911.6L1790.2 911.7L1793.2 911.8L1796.2 911.9L1799.2 912.0L1802.2 912.1L1805.2 912.2L1808.2 912.3L1811.2 912.4L1814.2 912.5L1817.2 912.6L1820.1 912.7L1823.1 912.8L1826.1 912.9L1829.1 913.0L1832.1 913.2L1835.1 913.3L1838.1 913.4L1841.1 913.6L1844.1 913.7L1847.1 913.8L1850.1 914.0L1853.1 914.2L1856.1 914.3L1859.1 914.5L1862.1 914.6L1865.1 914.8L1868.1 915.0L1871.0 915.2L1874.0 915.4L1877.0 915.6L1880.0 915.8L1883.0 916.0"/>
<path stroke="#00ffff" d="M276.5 209.0L276.6 212.0L276.6 215.0L276.7 218.0L276.7 221.0L276.8 224.0L276.8 227.0L276.9 230.0L276.9 233.0L277.0 236.0L277.0 239.0L277.1 242.0L277.2 245.0L277.2 248.0L277.3 251.0L277.3 254.0L277.4 257.0L277.4 260.0L277.5 263.0L277.6 266.0L277.6 269.0L277.7 272.0L277.7 275.0L277.8 278.0L277.8 281.0L277.9 284.0L278.0 287.0L278.0 290.0L278.1 293.0L278.1 296.0L278.2 299.0L278.3 302.0L278.3 305.0L278.4 307.9L278.4 310.9L278.5 313.9L278.6 316.9L278.6 319.9L278.7 322.9L278.7 325.9L278.8 328.9L278.9 331.9L278.9 334.9L279.0 337.9L279.1 340.9L279.1 343.9L279.2 346.9L279.2 349.9L279.3 352.8L279.4 355.8L279.4 358.8L279.5 361.8L279.6 364.8L279.6 367.8L279.7 370.8L279.8 373.8L279.8 376.8L279.9 379.8L280.0 382.8L280.0 385.8L280.1 388.8L280.2 391.8L280.2 394.8L280.3 397.8L280.4 400.7L280.4 403.7L280.5 406.7L280.6 409.7L280.6 412.7L280.7 415.7L280.8 418.7L280.8 421.7L280.9 424.7L281.0 427.7L281.0 430.7L281.1 433.7L281.2 436.7L281.2 439.7L281.3 442.7L281.4 445.7L281.5 448.7L281.5 451.7L281.6 454.7L281.7 457.7L281.7 460.7L281.8 463.7L281.9 466.7L282.0 469.7L282.0 472.7L282.1 475.7L282.2 478.7L282.3 481.7L282.3 484.7L282.4 487.7L282.5 490.7L282.6 493.7L282.6 496.7L282.7 499.7L282.8 502.7L282.9 505.7L282.9 508.8L283.0 511.8L283.1 514.8L283.2 517.8L283.3 520.8L283.4 523.8L283.5 526.8L283.6 529.8L283.7 532.8L283.8 535.8L284.0 538.8L284.1 541.8L284.3 544.8L284.4 547.8L284.6 550.8L284.8 553.8L285.0 556.8L285.2 559.8L285.4 562.8L285.7 565.7L286.0 568.7L286.2 571.7L286.5 574.7L286.8 577.6L287.2 580.6L287.5 583.6L287.9 586.5L288.3 589.5L288.7 592.4L289.1 595.4L289.6 598.3L290.1 601.3L290.6 604.2L291.1 607.1L291.7 610.1L292.3 613.0L292.9 615.9L293.5 618.8L294.2 621.7L294.9 624.6L295.6 627.5L296.4 630.4L297.2 633.3L298.0 636.1L298.8 639.0L299.7 641.9L300.6 644.7L301.6 647.6L302.6 650.4L303.6 653.3L304.7 656.1L305.8 658.9L306.9 661.7L308.0 664.5L309.2 667.3L310.3 670.1L311.5 672.9L312.8 675.6L314.0 678.4L315.3 681.2L316.5 683.9L317.8 686.6L319.1 689.4L320.4 692.1L321.8 694.8L323.1 697.5L324.5 700.2L325.8 702.9L327.2 705.5L328.6 708.1L330.1 710.7L331.7 713.3L333.2 715.8L334.9 718.2L336.6 720.6L338.4 722.9L340.3 725.2L342.2 727.5L344.2 729.7L346.2 731.8L348.3 734.0L350.4 736.1L352.6 738.2L354.7 740.2L357.0 742.3L359.2 744.3L361.4 746.3L363.7 748.3L366.0 750.3L368.3 752.3L370.6 754.3L372.8 756.3L375.1 758.3L377.4 760.2L379.7 762.2L382.0 764.2L384.4 766.1L386.7 768.0L389.1 769.9L391.4 771.7L393.8 773.5L396.2 775.3L398.7 777.0L401.1 778.6L403.6 780.2L406.2 781.8L408.7 783.3L411.3 784.7L414.0 786.0L416.6 787.3L419.3 788.5L422.1 789.7L424.9 790.7L427.7 791.8L430.5 792.8L433.3 793.7L436.2 794.7L439.0 795.7L441.9 796.6L444.7 797.6L447.5 798.5L450.4 799.5L453.2 800.6L456.0 801.7L458.7 802.8L461.5 804.0L464.3 805.1L467.0 806.3L469.7 807.5L472.5 808.7L475.2 809.9L478.0 811.1L480.7 812.3L483.5 813.4L486.3 814.5L489.0 815.6L491.8 816.6L494.6 817.7L497.4 818.7L500.3 819.7L503.1 820.7L505.9 821.6L508.8 822.6L511.6 823.5L514.5 824.4L517.4 825.3L520.2 826.2L523.1 827.0L526.0 827.9L528.9 828.8L531.7 829.7L534.6 830.6L537.4 831.5L540.3 832.4L543.2 833.4L546.0 834.3L548.8 835.3L551.7 836.3L554.5 837.2L557.4 838.1L560.2 839.1L563.1 840.0L565.9 840.8L568.8 841.6L571.7 842.4L574.6 843.2L577.5 843.8L580.4 844.5L583.4 845.1L586.3 845.7L589.2 846.3L592.2 846.8L595.1 847.4L598.1 847.9L601.0 848.4L604.0 849.0L606.9 849.5L609.9 850.1L612.8 850.6L615.8 851.2L618.7 851.7L621.7 852.3L624.6 852.9L627.5 853.5L630.5 854.1L633.4 854.6L636.4 855.2L639.3 855.8L642.2 856.4L645.2 857.0L648.1 857.6L651.0 858.2L654.0 858.8L656.9 859.5L659.9 860.1L662.8 860.7L665.7 861.3L668.7 861.9L671.6 862.5L674.5 863.1L677.5 863.7L680.4 864.4L683.3 865.0L686.3 865.6L689.2 866.2L692.1 866.8L695.1 867.4L698.0 868.0L700.9 868.6L703.9 869.2L706.8 869.8L709.7 870.4L712.7 871.0L715.6 871.6L718.6 872.2L721.5 872.8L724.4 873.3L727.4 873.9L730.3 874.5L733.3 875.0L736.2 875.6L739.2 876.1L742.1 876.7L745.1 877.2L748.0 877.8L751.0 878.3L753.9 878.8L756.9 879.3L759.8 879.9L762.8 880.4L765.7 880.9L768.7 881.4L771.6 881.9L774.6 882.3L777.6 882.8L780.5 883.3L783.5 883.8L786.4 884.2L789.4 884.7L792.4 885.1L795.3 885.6L798.3 886.0L801.3 886.4L804.2 886.9L807.2 887.3L810.2 887.7L813.1 888.1L816.1 888.5L819.1 888.9L822.0 889.3L825.0 889.7L828.0 890.0L831.0 890.4L833.9 890.8L836.9 891.1L839.9 891.5L842.9 891.8L845.8 892.2L848.8 892.5L851.8 892.8L854.8 893.2L857.8 893.5L860.7 893.8L863.7 894.1L866.7 894.4L869.7 894.8L872.7 895.1L875.6 895.4L878.6 895.7L881.6 896.0L884.6 896.3L887.6 896.6L890.6 896.9L893.5 897.2L896.5 897.5L899.5 897.8L902.5 898.1L905.5 898.3L908.5 898.6L911.5 898.9L914.4 899.2L917.4 899.5L920.4 899.8L923.4 900.1L926.4 900.4L929.4 900.7L932.3 901.0L935.3 901.3L938.3 901.6L941.3 901.9L944.3 902.2L947.3 902.5L950.2 902.8L953.2 903.1L956.2 903.4L959.2 903.7L962.2 904.0L965.2 904.3L968.1 904.6L971.1 904.9L974.1 905.2L977.1 905.5L980.1 905.8L983.0 906.2L986.0 906.5L989.0 906.8L992.0 907.1L995.0 907.4L997.9 907.7L1000.9 908.1L1003.9 908.4L1006.9 908.7L1009.9 909.0L1012.8 909.4L1015.8 909.7L1018.8 910.0L1021.8 910.3L1024.8 910.6L1027.7 911.0L1030.7 911.3L1033.7 911.6L1036.7 911.9L1039.7 912.2L1042.6 912.6L1045.6 912.9L1048.6 913.2L1051.6 913.5L1054.6 913.9L1057.5 914.2L1060.5 914.5L1063.5 914.8L1066.5 915.1L1069.5 915.5L1072.4 915.8L1075.4 916.1L1078.4 916.4L1081.4 916.7L1084.4 917.0L1087.3 917.3L1090.3 917.7L1093.3 918.0L1096.3 918.3L1099.3 918.6L1102.2 918.9L1105.2 919.2L1108.2 919.5L1111.2 919.8L1114.2 920.1L1117.1 920.4L1120.1 920.7L1123.1 921.0L1126.1 921.3L1129.1 921.6L1132.1 921.8L1135.0 922.1L1138.0 922.4L1141.0 922.6L1144.0 922.9L1147.0 923.1L1150.0 923.3L1153.0 923.6L1156.0 923.8L1158.9 924.0L1161.9 924.2L1164.9 924.4L1167.9 924.6L1170.9 924.7L1173.9 924.9L1176.9 925.1L1179.9 925.3L1182.9 925.5L1185.9 925.6L1188.9 925.8L1191.9 926.0L1194.9 926.2L1197.9 926.3L1200.8 926.5L1203.8 926.7L1206.8 926.9L1209.8 927.1L1212.8 927.3L1215.8 927.5L1218.8 927.7L1221.8 928.0L1224.8 928.2L1227.8 928.5L1230.7 928.7L1233.7 929.0L1236.7 929.2L1239.7 929.5L1242.7 929.8L1245.7 930.1L1248.6 930.4L1251.6 930.7L1254.6 931.0L1257.6 931.3L1260.6 931.7L1263.5 932.0L1266.5 932.3L1269.5 932.6L1272.5 932.9L1275.5 933.2L1278.4 933.5L1281.4 933.8L1284.4 934.1L1287.4 934.4L1290.4 934.7L1293.4 934.9L1296.3 935.2L1299.3 935.4L1302.3 935.7L1305.3 935.9L1308.3 936.1L1311.3 936.3L1314.3 936.5L1317.2 936.7L1320.2 936.9L1323.2 937.1L1326.2 937.3L1329.2 937.5L1332.2 937.6L1335.2 937.8L1338.2 937.9L1341.2 938.1L1344.2 938.2L1347.2 938.4L1350.2 938.5L1353.2 938.7L1356.1 938.8L1359.1 938.9L1362.1 939.1L1365.1 939.2L1368.1 939.3L1371.1 939.4L1374.1 939.6L1377.1 939.7L1380.1 939.8L1383.1 939.9L1386.1 940.0L1389.1 940.2L1392.1 940.3L1395.1 940.4L1398.1 940.5L1401.1 940.7L1404.1 940.8L1407.1 940.9L1410.1 941.0L1413.1 941.2L1416.1 941.3L1419.1 941.5L1422.1 941.6L1425.0 941.7L1428.0 941.9L1431.0 942.1L1434.0 942.2L1437.0 942.4L1440.0 942.5L1443.0 942.7L1446.0 942.9L1449.0 943.1L1452.0 943.2L1455.0 943.4L1458.0 943.6L1461.0 943.8L1464.0 944.0L1466.9 944.2L1469.9 944.4L1472.9 944.6L1475.9 944.8L1478.9 945.0L1481.9 945.2L1484.9 945.4L1487.9 945.6L1490.9 945.8L1493.9 946.0L1496.8 946.3L1499.8 946.5L1502.8 946.7L1505.8 946.9L1508.8 947.1L1511.8 947.3L1514.8 947.6L1517.8 947.8L1520.8 948.0L1523.8 948.2L1526.7 948.4L1529.7 948.7L1532.7 948.9L1535.7 949.1L1538.7 949.3L1541.7 949.6L1544.7 949.8L1547.7 950.0L1550.7 950.2L1553.6 950.5L1556.6 950.7L1559.6 950.9L1562.6 951.1L1565.6 951.3L1568.6 951.6L1571.6 951.8L1574.6 952.0L1577.6 952.2L1580.5 952.4L1583.5 952.6L1586.5 952.8L1589.5 953.0L1592.5 953.2L1595.5 953.4L1598.5 953.6L1601.5 953.8L1604.5 954.0L1607.5 954.2L1610.4 954.4L1613.4 954.6L1616.4 954.8L1619.4 955.0L1622.4 955.2L1625.4 955.3L1628.4 955.5L1631.4 955.7L1634.4 955.8L1637.4 956.0L1640.4 956.2L1643.4 956.3L1646.4 956.5L1649.3 956.6L1652.3 956.8L1655.3 956.9L1658.3 957.0L1661.3 957.2L1664.3 957.3L1667.3 957.4L1670.3 957.5L1673.3 957.6L1676.3 957.8L1679.3 957.9L1682.3 958.0L1685.3 958.0L1688.3 958.1L1691.3 958.2L1694.3 958.3L1697.3 958.4L1700.3 958.5L1703.3 958.5L1706.3 958.6L1709.3 958.7L1712.3 958.7L1715.3 958.8L1718.3 958.9L1721.3 958.9L1724.3 959.0L1727.3 959.1L1730.3 959.1L1733.3 959.2L1736.3 959.2L1739.3 959.3L1742.3 959.3L1745.3 959.4L1748.3 959.5L1751.3 959.5L1754.3 959.6L1757.3 959.6L1760.3 959.7L1763.3 959.8L1766.3 959.8L1769.3 959.9L1772.3 960.0L1775.3 960.0L1778.3 960.1L1781.3 960.2L1784.3 960.3L1787.3 960.3L1790.2 960.4L1793.2 960.5L1796.2 960.6L1799.2 960.7L1802.2 960.8L1805.2 960.9L1808.2 961.0L1811.2 961.1L1814.2 961.3L1817.2 961.4L1820.2 961.5L1823.2 961.6L1826.2 961.8L1829.2 961.9L1832.2 962.1L1835.2 962.3L1838.2 962.4L1841.2 962.6L1844.2 962.8L1847.1 963.0L1850.1 963.2L1853.1 963.4L1856.1 963.6L1859.1 963.8L1862.1 964.0L1865.1 964.3L1868.1 964.5L1871.1 964.8L1874.0 965.0L1877.0 965.3L1880.0 965.6L1883.0 965.9"/>
<path stroke="#ff00ff" d="M276.5 211.0L276.5 214.0L276.5 217.0L276.6 220.0L276.6 223.0L276.6 226.0L276.7 229.0L276.7 232.0L276.7 235.0L276.8 238.0L276.8 241.0L276.8 244.0L276.9 247.0L276.9 250.0L277.0 253.0L277.0 256.0L277.1 259.0L277.1 262.0L277.2 265.0L277.2 268.0L277.3 271.0L277.3 274.0L277.4 276.9L277.4 279.9L277.5 282.9L277.5 285.9L277.6 288.9L277.6 291.9L277.7 294.9L277.8 297.9L277.8 300.9L277.9 303.9L277.9 306.9L278.0 309.9L278.1 312.9L278.1 315.9L278.2 318.9L278.3 321.9L278.3 324.9L278.4 327.9L278.5 330.9L278.5 333.8L278.6 336.8L278.7 339.8L278.7 342.8L278.8 345.8L278.9 348.8L278.9 351.8L279.0 354.8L279.1 357.8L279.2 360.8L279.2 363.8L279.3 366.8L279.4 369.8L279.4 372.8L279.5 375.8L279.6 378.8L279.6 381.7L279.7 384.7L279.8 387.7L279.9 390.7L279.9 393.7L280.0 396.7L280.1 399.7L280.1 402.7L280.2 405.7L280.3 408.7L280.3 411.7L280.4 414.7L280.5 417.7L280.5 420.7L280.6 423.7L280.7 426.7L280.7 429.7L280.8 432.7L280.8 435.7L280.9 438.6L281.0 441.6L281.0 444.6L281.1 447.6L281.2 450.6L281.2 453.6L281.3 456.6L281.3 459.6L281.4 462.6L281.4 465.6L281.5 468.6L281.5 471.6L281.6 474.6L281.6 477.6L281.7 480.6L281.7 483.6L281.8 486.6L281.8 489.6L281.9 492.6L281.9 495.6L282.0 498.6L282.0 501.6L282.0 504.6L282.1 507.6L282.1 510.6L282.1 513.6L282.2 516.6L282.2 519.6L282.3 522.6L282.3 525.6L282.4 528.6L282.4 531.6L282.4 534.6L282.5 537.6L282.6 540.6L282.6 543.6L282.7 546.6L282.8 549.6L282.9 552.6L282.9 555.6L283.0 558.6L283.1 561.6L283.2 564.6L283.4 567.6L283.5 570.6L283.6 573.6L283.8 576.6L283.9 579.6L284.1 582.6L284.3 585.5L284.4 588.5L284.6 591.5L284.9 594.5L285.1 597.5L285.3 600.5L285.6 603.4L285.8 606.4L286.1 609.4L286.4 612.4L286.7 615.3L287.0 618.3L287.4 621.3L287.7 624.3L288.1 627.2L288.5 630.2L288.9 633.2L289.3 636.1L289.8 639.1L290.2 642.0L290.7 645.0L291.2 647.9L291.7 650.9L292.2 653.8L292.8 656.8L293.3 659.7L293.9 662.6L294.5 665.6L295.1 668.5L295.8 671.4L296.4 674.4L297.1 677.3L297.8 680.2L298.5 683.1L299.2 686.0L299.9 688.9L300.7 691.8L301.5 694.7L302.2 697.6L303.1 700.5L303.9 703.4L304.7 706.3L305.6 709.2L306.5 712.1L307.4 714.9L308.3 717.8L309.3 720.6L310.2 723.5L311.3 726.3L312.3 729.1L313.4 731.9L314.6 734.6L315.8 737.4L317.0 740.1L318.3 742.7L319.6 745.4L321.1 748.0L322.5 750.6L324.0 753.1L325.6 755.7L327.2 758.1L328.9 760.6L330.6 763.0L332.4 765.4L334.2 767.8L336.0 770.1L337.9 772.4L339.8 774.7L341.8 777.0L343.8 779.2L345.8 781.4L347.9 783.6L350.0 785.7L352.1 787.8L354.3 789.9L356.5 792.0L358.7 794.0L360.9 796.1L363.2 798.1L365.5 800.0L367.8 802.0L370.1 803.9L372.5 805.8L374.8 807.6L377.2 809.5L379.6 811.3L382.0 813.1L384.5 814.8L386.9 816.6L389.4 818.3L391.9 820.0L394.4 821.6L396.9 823.3L399.4 824.9L402.0 826.4L404.5 828.0L407.1 829.5L409.7 830.9L412.3 832.4L414.9 833.8L417.6 835.2L420.3 836.5L422.9 837.8L425.6 839.1L428.3 840.3L431.1 841.5L433.8 842.7L436.6 843.8L439.4 844.9L442.1 846.0L444.9 847.1L447.7 848.1L450.5 849.1L453.4 850.1L456.2 851.1L459.0 852.1L461.8 853.1L464.7 854.0L467.5 855.0L470.4 855.9L473.2 856.9L476.1 857.8L478.9 858.7L481.8 859.7L484.7 860.6L487.5 861.5L490.4 862.5L493.2 863.4L496.1 864.4L498.9 865.3L501.8 866.3L504.6 867.3L507.4 868.3L510.3 869.3L513.1 870.3L515.9 871.3L518.7 872.4L521.5 873.4L524.4 874.5L527.2 875.5L530.0 876.6L532.8 877.6L535.6 878.7L538.4 879.8L541.2 880.8L544.0 881.8L546.8 882.8L549.6 883.9L552.5 884.9L555.3 885.8L558.1 886.8L561.0 887.7L563.8 888.6L566.7 889.5L569.5 890.4L572.4 891.2L575.3 892.0L578.1 892.8L581.0 893.5L583.9 894.2L586.9 894.8L589.8 895.5L592.7 896.1L595.6 896.7L598.6 897.2L601.5 897.8L604.5 898.3L607.4 898.8L610.4 899.3L613.3 899.8L616.3 900.3L619.3 900.7L622.2 901.2L625.2 901.6L628.2 902.1L631.1 902.6L634.1 903.0L637.1 903.5L640.0 904.0L643.0 904.4L645.9 904.9L648.9 905.4L651.9 905.8L654.8 906.3L657.8 906.8L660.7 907.3L663.7 907.8L666.6 908.3L669.6 908.8L672.5 909.4L675.5 909.9L678.4 910.5L681.4 911.0L684.3 911.6L687.3 912.2L690.2 912.8L693.1 913.4L696.1 914.0L699.0 914.6L701.9 915.3L704.9 915.9L707.8 916.6L710.7 917.2L713.7 917.9L716.6 918.5L719.5 919.2L722.4 919.8L725.4 920.5L728.3 921.2L731.2 921.8L734.1 922.4L737.1 923.1L740.0 923.7L742.9 924.3L745.9 924.9L748.8 925.5L751.8 926.1L754.7 926.7L757.6 927.2L760.6 927.8L763.5 928.3L766.5 928.9L769.4 929.4L772.4 929.9L775.3 930.4L778.3 930.9L781.2 931.4L784.2 931.8L787.1 932.3L790.1 932.7L793.1 933.2L796.0 933.6L799.0 934.1L801.9 934.5L804.9 934.9L807.9 935.3L810.8 935.7L813.8 936.1L816.8 936.5L819.8 936.9L822.7 937.3L825.7 937.6L828.7 938.0L831.6 938.4L834.6 938.7L837.6 939.1L840.6 939.4L843.5 939.8L846.5 940.1L849.5 940.4L852.5 940.8L855.4 941.1L858.4 941.4L861.4 941.8L864.4 942.1L867.4 942.4L870.3 942.7L873.3 943.1L876.3 943.4L879.3 943.7L882.3 944.0L885.3 944.3L888.2 944.6L891.2 944.9L894.2 945.3L897.2 945.6L900.2 945.9L903.1 946.2L906.1 946.5L909.1 946.8L912.1 947.2L915.1 947.5L918.0 947.8L921.0 948.1L924.0 948.5L927.0 948.8L930.0 949.1L932.9 949.5L935.9 949.8L938.9 950.2L941.9 950.5L944.9 950.9L947.8 951.2L950.8 951.6L953.8 952.0L956.8 952.3L959.7 952.7L962.7 953.1L965.7 953.5L968.7 953.9L971.6 954.2L974.6 954.6L977.6 955.0L980.6 955.4L983.5 955.8L986.5 956.2L989.5 956.6L992.4 957.0L995.4 957.3L998.4 957.7L1001.4 958.1L1004.3 958.5L1007.3 958.9L1010.3 959.3L1013.3 959.7L1016.2 960.1L1019.2 960.4L1022.2 960.8L1025.1 961.2L1028.1 961.6L1031.1 962.0L1034.1 962.3L1037.0 962.7L1040.0 963.1L1043.0 963.4L1046.0 963.8L1048.9 964.1L1051.9 964.5L1054.9 964.8L1057.9 965.1L1060.8 965.5L1063.8 965.8L1066.8 966.1L1069.8 966.4L1072.7 966.8L1075.7 967.1L1078.7 967.3L1081.7 967.6L1084.7 967.9L1087.7 968.2L1090.6 968.5L1093.6 968.7L1096.6 969.0L1099.6 969.2L1102.6 969.5L1105.6 969.7L1108.5 969.9L1111.5 970.1L1114.5 970.3L1117.5 970.5L1120.5 970.7L1123.5 970.9L1126.5 971.0L1129.5 971.2L1132.5 971.4L1135.5 971.5L1138.5 971.7L1141.4 971.8L1144.4 972.0L1147.4 972.1L1150.4 972.3L1153.4 972.4L1156.4 972.6L1159.4 972.7L1162.4 972.9L1165.4 973.0L1168.4 973.2L1171.4 973.3L1174.4 973.5L1177.4 973.6L1180.4 973.8L1183.4 973.9L1186.4 974.1L1189.4 974.2L1192.3 974.4L1195.3 974.6L1198.3 974.8L1201.3 975.0L1204.3 975.2L1207.3 975.4L1210.3 975.6L1213.3 975.8L1216.3 976.0L1219.2 976.3L1222.2 976.5L1225.2 976.8L1228.2 977.1L1231.2 977.4L1234.2 977.7L1237.1 978.0L1240.1 978.3L1243.1 978.6L1246.1 978.9L1249.1 979.3L1252.0 979.6L1255.0 979.9L1258.0 980.3L1261.0 980.6L1263.9 981.0L1266.9 981.3L1269.9 981.7L1272.9 982.0L1275.9 982.3L1278.8 982.7L1281.8 983.0L1284.8 983.3L1287.8 983.6L1290.8 983.9L1293.7 984.2L1296.7 984.5L1299.7 984.7L1302.7 985.0L1305.7 985.2L1308.7 985.5L1311.6 985.7L1314.6 985.9L1317.6 986.1L1320.6 986.3L1323.6 986.5L1326.6 986.7L1329.6 986.9L1332.6 987.1L1335.6 987.2L1338.5 987.4L1341.5 987.6L1344.5 987.7L1347.5 987.9L1350.5 988.0L1353.5 988.2L1356.5 988.3L1359.5 988.4L1362.5 988.6L1365.5 988.7L1368.5 988.9L1371.5 989.0L1374.5 989.1L1377.5 989.2L1380.5 989.4L1383.4 989.5L1386.4 989.6L1389.4 989.8L1392.4 989.9L1395.4 990.0L1398.4 990.2L1401.4 990.3L1404.4 990.5L1407.4 990.6L1410.4 990.8L1413.4 990.9L1416.4 991.1L1419.4 991.3L1422.4 991.4L1425.3 991.6L1428.3 991.8L1431.3 992.0L1434.3 992.2L1437.3 992.4L1440.3 992.6L1443.3 992.8L1446.3 993.0L1449.3 993.3L1452.3 993.5L1455.2 993.7L1458.2 993.9L1461.2 994.2L1464.2 994.4L1467.2 994.7L1470.2 994.9L1473.2 995.2L1476.1 995.4L1479.1 995.7L1482.1 995.9L1485.1 996.2L1488.1 996.4L1491.1 996.7L1494.1 997.0L1497.0 997.2L1500.0 997.5L1503.0 997.7L1506.0 998.0L1509.0 998.3L1512.0 998.5L1515.0 998.8L1517.9 999.1L1520.9 999.3L1523.9 999.6L1526.9 999.8L1529.9 1000.1L1532.9 1000.3L1535.9 1000.6L1538.8 1000.8L1541.8 1001.1L1544.8 1001.3L1547.8 1001.6L1550.8 1001.8L1553.8 1002.1L1556.8 1002.3L1559.7 1002.5L1562.7 1002.7L1565.7 1003.0L1568.7 1003.2L1571.7 1003.4L1574.7 1003.6L1577.7 1003.8L1580.7 1004.0L1583.6 1004.2L1586.6 1004.4L1589.6 1004.6L1592.6 1004.7L1595.6 1004.9L1598.6 1005.1L1601.6 1005.2L1604.6 1005.4L1607.6 1005.5L1610.6 1005.7L1613.5 1005.8L1616.5 1006.0L1619.5 1006.1L1622.5 1006.2L1625.5 1006.3L1628.5 1006.5L1631.5 1006.6L1634.5 1006.7L1637.5 1006.8L1640.5 1006.9L1643.5 1007.1L1646.5 1007.2L1649.5 1007.3L1652.5 1007.4L1655.5 1007.5L1658.4 1007.6L1661.4 1007.7L1664.4 1007.8L1667.4 1008.0L1670.4 1008.1L1673.4 1008.2L1676.4 1008.3L1679.4 1008.4L1682.4 1008.5L1685.4 1008.7L1688.4 1008.8L1691.4 1008.9L1694.4 1009.0L1697.4 1009.1L1700.4 1009.3L1703.4 1009.4L1706.4 1009.5L1709.3 1009.6L1712.3 1009.8L1715.3 1009.9L1718.3 1010.0L1721.3 1010.1L1724.3 1010.3L1727.3 1010.4L1730.3 1010.5L1733.3 1010.6L1736.3 1010.8L1739.3 1010.9L1742.3 1011.0L1745.3 1011.2L1748.3 1011.3L1751.3 1011.4L1754.3 1011.6L1757.3 1011.7L1760.3 1011.8L1763.2 1012.0L1766.2 1012.1L1769.2 1012.2L1772.2 1012.3L1775.2 1012.5L1778.2 1012.6L1781.2 1012.7L1784.2 1012.9L1787.2 1013.0L1790.2 1013.1L1793.2 1013.3L1796.2 1013.4L1799.2 1013.5L1802.2 1013.6L1805.2 1013.8L1808.2 1013.9L1811.1 1014.0L1814.1 1014.1L1817.1 1014.3L1820.1 1014.4L1823.1 1014.5L1826.1 1014.6L1829.1 1014.8L1832.1 1014.9L1835.1 1015.0L1838.1 1015.1L1841.1 1015.3L1844.1 1015.4L1847.1 1015.5L1850.1 1015.6L1853.1 1015.7L1856.1 1015.8L1859.1 1015.9L1862.0 1016.1L1865.0 1016.2L1868.0 1016.3L1871.0 1016.4L1874.0 1016.5L1877.0 1016.6L1880.0 1016.7L1883.0 1016.8"/>
<path stroke="#ffff00" d="M276.5 212.5L276.5 215.5L276.6 218.5L276.6 221.5L276.6 224.5L276.6 227.5L276.7 230.5L276.7 233.5L276.7 236.5L276.8 239.5L276.8 242.5L276.9 245.5L276.9 248.5L276.9 251.5L277.0 254.5L277.0 257.5L277.0 260.5L277.1 263.5L277.1 266.5L277.2 269.5L277.2 272.5L277.3 275.5L277.3 278.5L277.3 281.5L277.4 284.5L277.4 287.5L277.5 290.5L277.5 293.5L277.6 296.5L277.6 299.5L277.7 302.5L277.7 305.5L277.8 308.5L277.8 311.4L277.9 314.4L277.9 317.4L278.0 320.4L278.0 323.4L278.1 326.4L278.1 329.4L278.2 332.4L278.2 335.4L278.3 338.4L278.3 341.4L278.4 344.4L278.5 347.4L278.5 350.4L278.6 353.4L278.6 356.3L278.7 359.3L278.7 362.3L278.8 365.3L278.8 368.3L278.9 371.3L279.0 374.3L279.0 377.3L279.1 380.3L279.1 383.3L279.2 386.3L279.2 389.3L279.3 392.3L279.4 395.3L279.4 398.2L279.5 401.2L279.5 404.2L279.6 407.2L279.6 410.2L279.7 413.2L279.7 416.2L279.8 419.2L279.9 422.2L279.9 425.2L280.0 428.2L280.0 431.2L280.1 434.2L280.1 437.2L280.2 440.2L280.2 443.2L280.3 446.2L280.4 449.2L280.4 452.2L280.5 455.1L280.5 458.1L280.6 461.1L280.6 464.1L280.7 467.1L280.7 470.1L280.8 473.1L280.8 476.1L280.9 479.1L280.9 482.1L281.0 485.1L281.0 488.1L281.1 491.1L281.1 494.1L281.2 497.1L281.2 500.1L281.3 503.1L281.3 506.1L281.4 509.1L281.4 512.1L281.5 515.1L281.5 518.1L281.6 521.2L281.6 524.2L281.7 527.2L281.7 530.2L281.8 533.2L281.8 536.2L281.9 539.2L282.0 542.2L282.0 545.2L282.1 548.2L282.2 551.2L282.2 554.2L282.3 557.2L282.4 560.2L282.5 563.2L282.6 566.2L282.7 569.2L282.8 572.2L282.9 575.2L283.0 578.2L283.1 581.2L283.2 584.2L283.3 587.2L283.5 590.2L283.6 593.2L283.8 596.2L283.9 599.2L284.1 602.2L284.2 605.2L284.4 608.1L284.6 611.1L284.8 614.1L285.0 617.1L285.2 620.1L285.4 623.1L285.6 626.1L285.9 629.1L286.1 632.0L286.4 635.0L286.6 638.0L286.9 641.0L287.2 644.0L287.5 646.9L287.8 649.9L288.1 652.9L288.4 655.9L288.8 658.8L289.1 661.8L289.5 664.8L289.9 667.7L290.3 670.7L290.7 673.7L291.1 676.6L291.5 679.6L291.9 682.6L292.4 685.5L292.9 688.5L293.4 691.4L293.8 694.4L294.4 697.3L294.9 700.3L295.4 703.2L296.0 706.1L296.6 709.1L297.2 712.0L297.8 714.9L298.4 717.9L299.1 720.8L299.8 723.7L300.5 726.6L301.2 729.5L301.9 732.4L302.7 735.3L303.5 738.2L304.3 741.1L305.1 744.0L306.0 746.9L306.9 749.7L307.8 752.6L308.8 755.4L309.7 758.3L310.7 761.1L311.8 764.0L312.8 766.8L313.9 769.6L315.0 772.4L316.2 775.2L317.4 777.9L318.6 780.7L319.9 783.4L321.2 786.1L322.5 788.8L323.9 791.5L325.3 794.1L326.8 796.7L328.2 799.3L329.8 801.9L331.4 804.4L333.0 806.9L334.7 809.4L336.4 811.9L338.1 814.3L339.9 816.7L341.7 819.1L343.6 821.4L345.5 823.7L347.4 826.0L349.4 828.3L351.4 830.5L353.4 832.7L355.5 834.8L357.6 836.9L359.8 839.0L362.0 841.0L364.2 843.1L366.4 845.0L368.7 847.0L371.0 848.9L373.4 850.7L375.7 852.5L378.1 854.3L380.6 856.1L383.0 857.8L385.5 859.4L388.0 861.1L390.6 862.6L393.1 864.2L395.7 865.7L398.3 867.2L400.9 868.7L403.5 870.1L406.2 871.6L408.8 873.0L411.5 874.4L414.1 875.8L416.8 877.2L419.5 878.6L422.2 880.0L424.8 881.3L427.5 882.7L430.2 884.1L432.9 885.5L435.5 887.0L438.2 888.4L440.8 889.8L443.5 891.2L446.2 892.6L448.8 894.0L451.5 895.4L454.1 896.8L456.8 898.1L459.5 899.5L462.2 900.8L464.8 902.1L467.5 903.4L470.3 904.6L473.0 905.8L475.7 907.0L478.5 908.1L481.2 909.2L484.0 910.2L486.8 911.2L489.6 912.1L492.5 913.0L495.4 913.8L498.2 914.6L501.2 915.2L504.1 915.9L507.0 916.5L510.0 917.0L513.0 917.6L516.0 918.1L518.9 918.6L521.9 919.2L524.8 919.8L527.8 920.5L530.7 921.2L533.6 922.0L536.5 922.9L539.3 923.9L542.1 925.1L544.8 926.3L547.6 927.5L550.3 928.8L553.0 930.1L555.7 931.4L558.4 932.7L561.2 933.8L563.9 934.9L566.7 935.8L569.5 936.7L572.4 937.3L575.3 937.9L578.2 938.3L581.2 938.7L584.1 939.1L587.1 939.4L590.0 939.8L593.0 940.3L595.9 940.8L598.8 941.4L601.7 942.0L604.7 942.8L607.5 943.5L610.4 944.3L613.3 945.1L616.2 945.9L619.1 946.7L622.0 947.5L624.9 948.4L627.8 949.1L630.7 949.9L633.6 950.7L636.5 951.4L639.4 952.2L642.3 952.9L645.2 953.6L648.2 954.3L651.1 954.9L654.0 955.6L656.9 956.3L659.9 956.9L662.8 957.6L665.7 958.2L668.7 958.8L671.6 959.4L674.5 960.0L677.5 960.6L680.4 961.2L683.4 961.8L686.3 962.4L689.2 962.9L692.2 963.5L695.1 964.1L698.1 964.6L701.0 965.2L704.0 965.7L706.9 966.3L709.9 966.8L712.8 967.3L715.8 967.8L718.7 968.4L721.7 968.9L724.6 969.4L727.6 969.9L730.5 970.4L733.5 970.9L736.5 971.4L739.4 971.8L742.4 972.3L745.3 972.8L748.3 973.3L751.2 973.7L754.2 974.2L757.2 974.7L760.1 975.1L763.1 975.6L766.0 976.0L769.0 976.4L772.0 976.9L774.9 977.3L777.9 977.7L780.9 978.2L783.8 978.6L786.8 979.0L789.8 979.4L792.7 979.8L795.7 980.3L798.7 980.7L801.6 981.1L804.6 981.5L807.6 981.9L810.5 982.3L813.5 982.6L816.5 983.0L819.5 983.4L822.4 983.8L825.4 984.2L828.4 984.6L831.3 984.9L834.3 985.3L837.3 985.7L840.3 986.0L843.2 986.4L846.2 986.8L849.2 987.1L852.2 987.5L855.1 987.9L858.1 988.2L861.1 988.6L864.1 988.9L867.0 989.3L870.0 989.6L873.0 990.0L876.0 990.3L879.0 990.7L881.9 991.0L884.9 991.3L887.9 991.7L890.9 992.0L893.8 992.4L896.8 992.7L899.8 993.0L902.8 993.4L905.8 993.7L908.7 994.0L911.7 994.4L914.7 994.7L917.7 995.0L920.7 995.4L923.6 995.7L926.6 996.0L929.6 996.4L932.6 996.7L935.6 997.0L938.5 997.4L941.5 997.7L944.5 998.0L947.5 998.4L950.5 998.7L953.4 999.0L956.4 999.4L959.4 999.7L962.4 1000.0L965.4 1000.4L968.3 1000.7L971.3 1001.0L974.3 1001.4L977.3 1001.7L980.3 1002.0L983.2 1002.4L986.2 1002.7L989.2 1003.1L992.2 1003.4L995.1 1003.8L998.1 1004.1L1001.1 1004.4L1004.1 1004.8L1007.1 1005.1L1010.0 1005.5L1013.0 1005.8L1016.0 1006.2L1019.0 1006.6L1021.9 1006.9L1024.9 1007.3L1027.9 1007.6L1030.9 1008.0L1033.8 1008.4L1036.8 1008.7L1039.8 1009.1L1042.8 1009.5L1045.7 1009.8L1048.7 1010.2L1051.7 1010.5L1054.7 1010.9L1057.7 1011.3L1060.6 1011.6L1063.6 1012.0L1066.6 1012.3L1069.6 1012.7L1072.5 1013.0L1075.5 1013.3L1078.5 1013.7L1081.5 1014.0L1084.4 1014.3L1087.4 1014.6L1090.4 1015.0L1093.4 1015.3L1096.4 1015.5L1099.3 1015.8L1102.3 1016.1L1105.3 1016.4L1108.3 1016.7L1111.3 1016.9L1114.3 1017.1L1117.2 1017.4L1120.2 1017.6L1123.2 1017.8L1126.2 1018.0L1129.2 1018.2L1132.2 1018.4L1135.2 1018.6L1138.2 1018.7L1141.2 1018.9L1144.2 1019.0L1147.2 1019.2L1150.2 1019.3L1153.1 1019.5L1156.1 1019.6L1159.1 1019.7L1162.1 1019.8L1165.1 1020.0L1168.1 1020.1L1171.1 1020.2L1174.1 1020.3L1177.1 1020.5L1180.1 1020.6L1183.1 1020.7L1186.1 1020.9L1189.1 1021.0L1192.1 1021.2L1195.1 1021.3L1198.1 1021.5L1201.1 1021.7L1204.1 1021.8L1207.1 1022.0L1210.0 1022.3L1213.0 1022.5L1216.0 1022.7L1219.0 1022.9L1222.0 1023.2L1225.0 1023.5L1228.0 1023.7L1231.0 1024.0L1233.9 1024.3L1236.9 1024.6L1239.9 1024.9L1242.9 1025.2L1245.9 1025.5L1248.8 1025.8L1251.8 1026.1L1254.8 1026.4L1257.8 1026.7L1260.8 1027.0L1263.8 1027.3L1266.7 1027.7L1269.7 1028.0L1272.7 1028.3L1275.7 1028.6L1278.7 1028.9L1281.6 1029.2L1284.6 1029.5L1287.6 1029.8L1290.6 1030.1L1293.6 1030.3L1296.6 1030.6L1299.5 1030.9L1302.5 1031.1L1305.5 1031.4L1308.5 1031.6L1311.5 1031.9L1314.5 1032.1L1317.5 1032.3L1320.5 1032.6L1323.4 1032.8L1326.4 1033.0L1329.4 1033.2L1332.4 1033.4L1335.4 1033.6L1338.4 1033.8L1341.4 1034.0L1344.4 1034.2L1347.4 1034.4L1350.3 1034.6L1353.3 1034.8L1356.3 1034.9L1359.3 1035.1L1362.3 1035.3L1365.3 1035.5L1368.3 1035.6L1371.3 1035.8L1374.3 1036.0L1377.3 1036.1L1380.3 1036.3L1383.3 1036.5L1386.3 1036.6L1389.2 1036.8L1392.2 1037.0L1395.2 1037.1L1398.2 1037.3L1401.2 1037.5L1404.2 1037.6L1407.2 1037.8L1410.2 1038.0L1413.2 1038.1L1416.2 1038.3L1419.2 1038.5L1422.2 1038.6L1425.2 1038.8L1428.1 1039.0L1431.1 1039.2L1434.1 1039.3L1437.1 1039.5L1440.1 1039.7L1443.1 1039.9L1446.1 1040.1L1449.1 1040.3L1452.1 1040.5L1455.1 1040.6L1458.1 1040.8L1461.0 1041.0L1464.0 1041.2L1467.0 1041.4L1470.0 1041.6L1473.0 1041.8L1476.0 1042.0L1479.0 1042.2L1482.0 1042.4L1485.0 1042.6L1488.0 1042.8L1490.9 1043.0L1493.9 1043.2L1496.9 1043.4L1499.9 1043.6L1502.9 1043.9L1505.9 1044.1L1508.9 1044.3L1511.9 1044.5L1514.9 1044.7L1517.9 1044.9L1520.8 1045.1L1523.8 1045.3L1526.8 1045.5L1529.8 1045.7L1532.8 1045.9L1535.8 1046.1L1538.8 1046.3L1541.8 1046.6L1544.8 1046.8L1547.7 1047.0L1550.7 1047.2L1553.7 1047.4L1556.7 1047.6L1559.7 1047.8L1562.7 1048.0L1565.7 1048.2L1568.7 1048.4L1571.7 1048.6L1574.7 1048.8L1577.6 1049.0L1580.6 1049.2L1583.6 1049.4L1586.6 1049.6L1589.6 1049.8L1592.6 1050.0L1595.6 1050.2L1598.6 1050.4L1601.6 1050.6L1604.6 1050.8L1607.5 1051.0L1610.5 1051.1L1613.5 1051.3L1616.5 1051.5L1619.5 1051.7L1622.5 1051.9L1625.5 1052.1L1628.5 1052.2L1631.5 1052.4L1634.5 1052.6L1637.5 1052.7L1640.4 1052.9L1643.4 1053.1L1646.4 1053.2L1649.4 1053.4L1652.4 1053.6L1655.4 1053.7L1658.4 1053.9L1661.4 1054.0L1664.4 1054.2L1667.4 1054.3L1670.4 1054.5L1673.4 1054.6L1676.4 1054.8L1679.4 1054.9L1682.4 1055.0L1685.3 1055.2L1688.3 1055.3L1691.3 1055.4L1694.3 1055.5L1697.3 1055.7L1700.3 1055.8L1703.3 1055.9L1706.3 1056.0L1709.3 1056.1L1712.3 1056.3L1715.3 1056.4L1718.3 1056.5L1721.3 1056.6L1724.3 1056.7L1727.3 1056.8L1730.3 1056.9L1733.3 1057.0L1736.3 1057.1L1739.3 1057.2L1742.3 1057.3L1745.3 1057.4L1748.3 1057.5L1751.2 1057.6L1754.2 1057.7L1757.2 1057.8L1760.2 1057.9L1763.2 1058.1L1766.2 1058.2L1769.2 1058.3L1772.2 1058.4L1775.2 1058.5L1778.2 1058.6L1781.2 1058.7L1784.2 1058.8L1787.2 1058.9L1790.2 1059.0L1793.2 1059.1L1796.2 1059.2L1799.2 1059.3L1802.2 1059.4L1805.2 1059.5L1808.2 1059.6L1811.2 1059.8L1814.2 1059.9L1817.2 1060.0L1820.1 1060.1L1823.1 1060.2L1826.1 1060.4L1829.1 1060.5L1832.1 1060.6L1835.1 1060.7L1838.1 1060.9L1841.1 1061.0L1844.1 1061.2L1847.1 1061.3L1850.1 1061.4L1853.1 1061.6L1856.1 1061.7L1859.1 1061.9L1862.1 1062.0L1865.1 1062.2L1868.0 1062.3L1871.0 1062.5L1874.0 1062.7L1877.0 1062.8L1880.0 1063.0L1883.0 1063.2"/>
<path stroke="#808000" d="M276.5 213.5L276.6 216.5L276.7 219.5L276.8 222.5L276.8 225.5L276.9 228.5L277.0 231.5L277.1 234.5L277.1 237.5L277.2 240.5L277.3 243.5L277.4 246.5L277.4 249.5L277.5 252.5L277.5 255.5L277.6 258.5L277.6 261.5L277.7 264.5L277.7 267.5L277.8 270.5L277.8 273.5L277.9 276.5L277.9 279.5L278.0 282.5L278.0 285.5L278.0 288.5L278.1 291.5L278.1 294.5L278.1 297.5L278.2 300.5L278.2 303.5L278.2 306.5L278.2 309.5L278.3 312.5L278.3 315.5L278.3 318.5L278.3 321.5L278.4 324.5L278.4 327.5L278.4 330.5L278.4 333.5L278.4 336.4L278.4 339.4L278.5 342.4L278.5 345.4L278.5 348.4L278.5 351.4L278.5 354.4L278.5 357.4L278.5 360.4L278.5 363.4L278.5 366.4L278.6 369.4L278.6 372.4L278.6 375.4L278.6 378.4L278.6 381.4L278.6 384.4L278.6 387.3L278.6 390.3L278.6 393.3L278.7 396.3L278.7 399.3L278.7 402.3L278.7 405.3L278.7 408.3L278.7 411.3L278.7 414.3L278.7 417.3L278.7 420.3L278.8 423.3L278.8 426.2L278.8 429.2L278.8 432.2L278.8 435.2L278.8 438.2L278.9 441.2L278.9 444.2L278.9 447.2L278.9 450.2L279.0 453.2L279.0 456.2L279.0 459.2L279.0 462.2L279.1 465.1L279.1 468.1L279.1 471.1L279.2 474.1L279.2 477.1L279.2 480.1L279.3 483.1L279.3 486.1L279.4 489.1L279.4 492.1L279.5 495.1L279.5 498.1L279.6 501.1L279.6 504.0L279.7 507.0L279.7 510.0L279.8 513.0L279.9 516.0L279.9 519.0L280.0 522.0L280.1 525.0L280.1 528.0L280.2 531.0L280.3 534.0L280.4 537.0L280.4 540.0L280.5 543.0L280.6 546.0L280.7 548.9L280.8 551.9L280.9 554.9L281.0 557.9L281.1 560.9L281.2 563.9L281.3 566.9L281.4 569.9L281.6 572.9L281.7 575.9L281.8 578.9L281.9 581.9L282.1 584.9L282.2 587.9L282.3 590.9L282.5 593.9L282.6 596.9L282.8 599.9L282.9 602.9L283.1 605.9L283.3 608.8L283.4 611.8L283.6 614.8L283.8 617.8L283.9 620.8L284.1 623.8L284.3 626.8L284.5 629.8L284.7 632.8L284.9 635.8L285.1 638.8L285.3 641.8L285.5 644.8L285.7 647.8L286.0 650.8L286.2 653.8L286.4 656.8L286.7 659.8L286.9 662.8L287.2 665.8L287.4 668.8L287.7 671.8L288.0 674.8L288.2 677.8L288.5 680.8L288.8 683.8L289.1 686.8L289.5 689.8L289.8 692.8L290.1 695.8L290.5 698.7L290.8 701.7L291.2 704.7L291.6 707.7L292.0 710.6L292.4 713.6L292.9 716.6L293.3 719.5L293.8 722.5L294.2 725.5L294.7 728.4L295.2 731.4L295.7 734.3L296.3 737.3L296.8 740.2L297.4 743.1L298.0 746.0L298.6 749.0L299.2 751.9L299.9 754.8L300.5 757.7L301.2 760.6L301.9 763.5L302.7 766.4L303.4 769.3L304.2 772.2L305.0 775.0L305.8 777.9L306.6 780.7L307.5 783.6L308.4 786.4L309.3 789.3L310.2 792.1L311.2 794.9L312.2 797.7L313.2 800.6L314.2 803.4L315.3 806.1L316.4 808.9L317.5 811.7L318.6 814.5L319.8 817.2L321.0 820.0L322.2 822.7L323.5 825.4L324.8 828.2L326.1 830.9L327.5 833.6L328.9 836.2L330.3 838.9L331.7 841.6L333.2 844.2L334.7 846.8L336.3 849.4L337.9 852.0L339.5 854.5L341.2 857.0L342.8 859.5L344.6 862.0L346.3 864.4L348.1 866.8L350.0 869.2L351.8 871.5L353.8 873.8L355.7 876.1L357.7 878.3L359.7 880.5L361.8 882.7L363.9 884.8L366.1 886.9L368.3 888.9L370.5 890.9L372.7 892.9L375.0 894.8L377.4 896.7L379.8 898.5L382.2 900.3L384.6 902.1L387.0 903.8L389.5 905.5L392.0 907.1L394.6 908.7L397.1 910.3L399.7 911.8L402.3 913.3L404.9 914.8L407.6 916.2L410.2 917.6L412.9 919.0L415.6 920.3L418.3 921.6L421.0 922.9L423.7 924.2L426.4 925.4L429.2 926.6L431.9 927.7L434.7 928.9L437.5 930.0L440.2 931.1L443.0 932.2L445.8 933.3L448.6 934.3L451.5 935.4L454.3 936.4L457.1 937.4L459.9 938.4L462.7 939.4L465.6 940.4L468.4 941.4L471.2 942.4L474.1 943.3L476.9 944.3L479.7 945.3L482.6 946.2L485.4 947.2L488.2 948.1L491.1 949.1L493.9 950.1L496.7 951.1L499.6 952.1L502.4 953.1L505.2 954.1L508.0 955.1L510.8 956.1L513.6 957.2L516.4 958.3L519.2 959.3L522.0 960.4L524.8 961.5L527.6 962.6L530.5 963.7L533.3 964.7L536.1 965.8L538.9 966.8L541.7 967.9L544.5 968.9L547.3 969.9L550.2 970.9L553.0 971.8L555.8 972.8L558.7 973.7L561.5 974.7L564.4 975.6L567.2 976.5L570.1 977.4L572.9 978.3L575.8 979.1L578.7 980.0L581.5 980.8L584.4 981.7L587.3 982.5L590.2 983.3L593.1 984.1L595.9 984.9L598.8 985.6L601.7 986.4L604.6 987.1L607.5 987.9L610.4 988.6L613.3 989.3L616.2 990.0L619.1 990.7L622.0 991.4L624.9 992.1L627.9 992.8L630.8 993.5L633.7 994.1L636.6 994.8L639.5 995.4L642.5 996.0L645.4 996.7L648.3 997.3L651.3 997.9L654.2 998.5L657.1 999.1L660.1 999.7L663.0 1000.2L666.0 1000.8L668.9 1001.4L671.8 1001.9L674.8 1002.5L677.7 1003.0L680.7 1003.6L683.6 1004.1L686.6 1004.7L689.5 1005.2L692.5 1005.7L695.5 1006.2L698.4 1006.7L701.4 1007.2L704.3 1007.7L707.3 1008.2L710.2 1008.7L713.2 1009.2L716.2 1009.7L719.1 1010.2L722.1 1010.7L725.1 1011.2L728.0 1011.7L731.0 1012.1L733.9 1012.6L736.9 1013.1L739.9 1013.5L742.8 1014.0L745.8 1014.5L748.8 1015.0L751.7 1015.4L754.7 1015.9L757.7 1016.3L760.6 1016.8L763.6 1017.3L766.6 1017.7L769.5 1018.2L772.5 1018.7L775.5 1019.1L778.4 1019.6L781.4 1020.1L784.3 1020.5L787.3 1021.0L790.3 1021.4L793.2 1021.9L796.2 1022.4L799.2 1022.8L802.1 1023.3L805.1 1023.7L808.0 1024.2L811.0 1024.7L814.0 1025.1L816.9 1025.6L819.9 1026.0L822.9 1026.5L825.8 1026.9L828.8 1027.3L831.7 1027.8L834.7 1028.2L837.7 1028.7L840.6 1029.1L843.6 1029.5L846.5 1030.0L849.5 1030.4L852.5 1030.8L855.4 1031.2L858.4 1031.7L861.4 1032.1L864.3 1032.5L867.3 1032.9L870.3 1033.3L873.2 1033.7L876.2 1034.1L879.2 1034.5L882.1 1034.9L885.1 1035.3L888.1 1035.6L891.0 1036.0L894.0 1036.4L897.0 1036.7L899.9 1037.1L902.9 1037.5L905.9 1037.8L908.9 1038.2L911.8 1038.5L914.8 1038.8L917.8 1039.2L920.8 1039.5L923.7 1039.8L926.7 1040.1L929.7 1040.4L932.7 1040.7L935.7 1041.0L938.6 1041.3L941.6 1041.6L944.6 1041.9L947.6 1042.2L950.6 1042.4L953.6 1042.7L956.6 1042.9L959.5 1043.2L962.5 1043.4L965.5 1043.7L968.5 1043.9L971.5 1044.2L974.5 1044.4L977.5 1044.7L980.5 1044.9L983.4 1045.1L986.4 1045.4L989.4 1045.6L992.4 1045.9L995.4 1046.1L998.4 1046.3L1001.4 1046.6L1004.4 1046.8L1007.4 1047.1L1010.4 1047.3L1013.3 1047.6L1016.3 1047.9L1019.3 1048.1L1022.3 1048.4L1025.3 1048.7L1028.3 1049.0L1031.2 1049.2L1034.2 1049.5L1037.2 1049.8L1040.2 1050.1L1043.2 1050.5L1046.2 1050.8L1049.1 1051.1L1052.1 1051.4L1055.1 1051.7L1058.1 1052.0L1061.0 1052.4L1064.0 1052.7L1067.0 1053.0L1070.0 1053.4L1073.0 1053.7L1075.9 1054.0L1078.9 1054.4L1081.9 1054.7L1084.9 1055.0L1087.8 1055.3L1090.8 1055.7L1093.8 1056.0L1096.8 1056.3L1099.7 1056.7L1102.7 1057.0L1105.7 1057.3L1108.7 1057.6L1111.7 1057.9L1114.6 1058.2L1117.6 1058.6L1120.6 1058.9L1123.6 1059.2L1126.6 1059.5L1129.5 1059.8L1132.5 1060.1L1135.5 1060.4L1138.5 1060.7L1141.5 1060.9L1144.4 1061.2L1147.4 1061.5L1150.4 1061.8L1153.4 1062.1L1156.4 1062.4L1159.4 1062.6L1162.3 1062.9L1165.3 1063.2L1168.3 1063.4L1171.3 1063.7L1174.3 1064.0L1177.3 1064.2L1180.2 1064.5L1183.2 1064.8L1186.2 1065.0L1189.2 1065.3L1192.2 1065.5L1195.2 1065.8L1198.2 1066.0L1201.1 1066.3L1204.1 1066.5L1207.1 1066.8L1210.1 1067.0L1213.1 1067.3L1216.1 1067.5L1219.1 1067.7L1222.1 1068.0L1225.0 1068.2L1228.0 1068.4L1231.0 1068.7L1234.0 1068.9L1237.0 1069.1L1240.0 1069.4L1243.0 1069.6L1246.0 1069.8L1248.9 1070.1L1251.9 1070.3L1254.9 1070.5L1257.9 1070.7L1260.9 1071.0L1263.9 1071.2L1266.9 1071.4L1269.9 1071.6L1272.9 1071.8L1275.8 1072.0L1278.8 1072.3L1281.8 1072.5L1284.8 1072.7L1287.8 1072.9L1290.8 1073.1L1293.8 1073.3L1296.8 1073.6L1299.8 1073.8L1302.7 1074.0L1305.7 1074.2L1308.7 1074.4L1311.7 1074.6L1314.7 1074.8L1317.7 1075.0L1320.7 1075.2L1323.7 1075.4L1326.7 1075.7L1329.7 1075.9L1332.6 1076.1L1335.6 1076.3L1338.6 1076.5L1341.6 1076.7L1344.6 1076.9L1347.6 1077.1L1350.6 1077.3L1353.6 1077.5L1356.6 1077.7L1359.5 1078.0L1362.5 1078.2L1365.5 1078.4L1368.5 1078.6L1371.5 1078.8L1374.5 1079.0L1377.5 1079.2L1380.5 1079.4L1383.5 1079.6L1386.4 1079.8L1389.4 1080.0L1392.4 1080.2L1395.4 1080.4L1398.4 1080.6L1401.4 1080.9L1404.4 1081.1L1407.4 1081.3L1410.4 1081.5L1413.3 1081.7L1416.3 1081.9L1419.3 1082.1L1422.3 1082.3L1425.3 1082.5L1428.3 1082.7L1431.3 1082.9L1434.3 1083.1L1437.3 1083.3L1440.2 1083.5L1443.2 1083.7L1446.2 1083.9L1449.2 1084.1L1452.2 1084.3L1455.2 1084.5L1458.2 1084.7L1461.2 1084.9L1464.2 1085.1L1467.1 1085.3L1470.1 1085.5L1473.1 1085.7L1476.1 1085.9L1479.1 1086.1L1482.1 1086.3L1485.1 1086.5L1488.1 1086.7L1491.1 1086.9L1494.0 1087.1L1497.0 1087.3L1500.0 1087.5L1503.0 1087.7L1506.0 1087.9L1509.0 1088.1L1512.0 1088.2L1515.0 1088.4L1518.0 1088.6L1521.0 1088.8L1523.9 1089.0L1526.9 1089.2L1529.9 1089.4L1532.9 1089.6L1535.9 1089.8L1538.9 1090.0L1541.9 1090.1L1544.9 1090.3L1547.9 1090.5L1550.9 1090.7L1553.8 1090.9L1556.8 1091.1L1559.8 1091.2L1562.8 1091.4L1565.8 1091.6L1568.8 1091.8L1571.8 1092.0L1574.8 1092.2L1577.8 1092.3L1580.8 1092.5L1583.8 1092.7L1586.8 1092.9L1589.7 1093.0L1592.7 1093.2L1595.7 1093.4L1598.7 1093.6L1601.7 1093.8L1604.7 1093.9L1607.7 1094.1L1610.7 1094.3L1613.7 1094.5L1616.7 1094.6L1619.7 1094.8L1622.7 1095.0L1625.6 1095.1L1628.6 1095.3L1631.6 1095.5L1634.6 1095.7L1637.6 1095.8L1640.6 1096.0L1643.6 1096.2L1646.6 1096.3L1649.6 1096.5L1652.6 1096.7L1655.6 1096.8L1658.6 1097.0L1661.5 1097.2L1664.5 1097.3L1667.5 1097.5L1670.5 1097.7L1673.5 1097.8L1676.5 1098.0L1679.5 1098.2L1682.5 1098.3L1685.5 1098.5L1688.5 1098.6L1691.5 1098.8L1694.5 1099.0L1697.5 1099.1L1700.4 1099.3L1703.4 1099.5L1706.4 1099.6L1709.4 1099.8L1712.4 1099.9L1715.4 1100.1L1718.4 1100.2L1721.4 1100.4L1724.4 1100.6L1727.4 1100.7L1730.4 1100.9L1733.4 1101.0L1736.4 1101.2L1739.4 1101.3L1742.3 1101.5L1745.3 1101.6L1748.3 1101.8L1751.3 1102.0L1754.3 1102.1L1757.3 1102.3L1760.3 1102.4L1763.3 1102.6L1766.3 1102.7L1769.3 1102.9L1772.3 1103.0L1775.3 1103.2L1778.3 1103.3L1781.3 1103.5L1784.2 1103.6L1787.2 1103.8L1790.2 1103.9L1793.2 1104.1L1796.2 1104.2L1799.2 1104.3L1802.2 1104.5L1805.2 1104.6L1808.2 1104.8L1811.2 1104.9L1814.2 1105.1L1817.2 1105.2L1820.2 1105.4L1823.1 1105.5L1826.1 1105.7L1829.1 1105.8L1832.1 1105.9L1835.1 1106.1L1838.1 1106.2L1841.1 1106.4L1844.1 1106.5L1847.1 1106.6L1850.1 1106.8L1853.1 1106.9L1856.1 1107.1L1859.1 1107.2L1862.1 1107.3L1865.0 1107.5L1868.0 1107.6L1871.0 1107.8L1874.0 1107.9L1877.0 1108.0L1880.0 1108.2L1883.0 1108.3"/>
<path stroke="#000080" d="M276.5 215.0L276.6 218.0L276.7 221.0L276.8 224.0L276.8 227.0L276.9 230.0L277.0 233.0L277.1 236.0L277.1 239.0L277.2 242.0L277.3 245.0L277.3 248.0L277.4 251.0L277.4 254.0L277.5 257.0L277.5 260.0L277.6 263.0L277.6 266.0L277.7 269.0L277.7 272.0L277.7 275.0L277.8 278.0L277.8 281.0L277.8 284.0L277.8 287.0L277.9 290.0L277.9 293.0L277.9 296.0L277.9 299.0L277.9 302.0L278.0 305.0L278.0 308.0L278.0 311.0L278.0 314.0L278.0 317.0L278.0 320.0L278.0 323.0L278.0 326.0L278.0 329.0L278.0 332.0L278.0 335.0L278.0 337.9L278.0 340.9L278.0 343.9L278.0 346.9L278.0 349.9L278.0 352.9L278.0 355.9L278.0 358.9L278.0 361.9L278.0 364.9L278.0 367.9L278.0 370.9L278.0 373.9L278.0 376.9L278.0 379.9L278.0 382.9L278.0 385.9L278.0 388.9L278.0 391.9L278.0 394.9L278.0 397.9L278.0 400.9L278.0 403.9L278.0 406.9L278.0 409.9L278.0 412.9L278.0 415.9L278.0 418.9L278.0 421.9L278.0 424.9L278.0 427.9L278.0 430.9L278.0 433.9L278.0 436.9L278.0 439.9L278.0 442.9L278.0 445.9L278.0 448.8L278.0 451.8L278.0 454.8L278.0 457.8L278.0 460.8L278.0 463.8L278.0 466.8L278.0 469.8L278.0 472.8L278.0 475.8L278.0 478.8L278.0 481.8L278.0 484.8L278.0 487.8L278.0 490.8L278.0 493.8L278.0 496.8L278.0 499.8L278.0 502.8L278.0 505.8L278.0 508.8L278.0 511.8L278.0 514.8L278.0 517.7L278.0 520.7L278.0 523.7L278.0 526.7L278.0 529.7L278.0 532.7L278.0 535.7L278.1 538.7L278.1 541.7L278.2 544.7L278.2 547.7L278.3 550.7L278.4 553.7L278.4 556.7L278.5 559.7L278.6 562.7L278.6 565.7L278.7 568.7L278.8 571.6L278.9 574.6L279.0 577.6L279.1 580.6L279.2 583.6L279.3 586.6L279.4 589.6L279.5 592.6L279.6 595.6L279.7 598.6L279.9 601.6L280.0 604.6L280.1 607.6L280.2 610.6L280.4 613.6L280.5 616.5L280.7 619.5L280.8 622.5L281.0 625.5L281.1 628.5L281.3 631.5L281.5 634.5L281.6 637.5L281.8 640.5L282.0 643.5L282.2 646.5L282.4 649.5L282.6 652.5L282.8 655.4L283.0 658.4L283.2 661.4L283.4 664.4L283.7 667.4L283.9 670.4L284.1 673.4L284.4 676.4L284.6 679.4L284.9 682.4L285.1 685.4L285.4 688.4L285.7 691.3L285.9 694.3L286.2 697.3L286.5 700.3L286.8 703.3L287.1 706.3L287.4 709.3L287.7 712.3L288.0 715.3L288.4 718.3L288.7 721.2L289.0 724.2L289.4 727.2L289.7 730.2L290.1 733.2L290.4 736.2L290.8 739.2L291.2 742.2L291.6 745.1L292.0 748.1L292.4 751.1L292.9 754.1L293.3 757.0L293.8 760.0L294.2 763.0L294.7 766.0L295.2 768.9L295.7 771.9L296.3 774.8L296.8 777.8L297.4 780.7L297.9 783.7L298.5 786.6L299.1 789.5L299.8 792.5L300.4 795.4L301.1 798.3L301.7 801.2L302.4 804.1L303.2 807.0L303.9 809.9L304.7 812.8L305.5 815.6L306.3 818.5L307.1 821.4L308.0 824.2L308.9 827.1L309.8 829.9L310.7 832.7L311.6 835.6L312.6 838.4L313.6 841.2L314.7 844.0L315.7 846.8L316.8 849.5L317.9 852.3L319.1 855.1L320.3 857.8L321.5 860.5L322.7 863.3L324.0 866.0L325.3 868.7L326.6 871.4L327.9 874.1L329.3 876.7L330.8 879.4L332.2 882.0L333.7 884.7L335.3 887.3L336.8 889.9L338.4 892.5L340.1 895.1L341.8 897.6L343.6 900.0L345.5 902.3L347.5 904.4L349.5 906.5L351.7 908.5L353.8 910.6L355.8 912.7L357.8 914.9L359.7 917.2L361.6 919.5L363.5 921.8L365.4 924.0L367.5 926.1L369.6 928.1L371.9 930.0L374.4 931.7L376.8 933.3L379.4 934.9L382.0 936.5L384.5 938.0L387.1 939.6L389.6 941.2L392.1 942.9L394.5 944.7L396.8 946.5L399.2 948.3L401.5 950.0L404.0 951.7L406.4 953.3L409.0 954.8L411.6 956.3L414.2 957.7L416.8 959.1L419.5 960.4L422.2 961.7L424.9 963.0L427.6 964.3L430.3 965.7L433.0 967.0L435.7 968.4L438.3 969.8L440.9 971.3L443.5 972.9L446.1 974.5L448.7 976.0L451.2 977.6L453.8 979.1L456.4 980.6L459.0 982.1L461.7 983.4L464.4 984.7L467.1 985.9L469.8 987.0L472.6 988.0L475.4 989.0L478.3 990.0L481.1 990.8L484.0 991.7L486.9 992.5L489.8 993.3L492.7 994.0L495.6 994.8L498.5 995.5L501.4 996.3L504.4 997.0L507.3 997.8L510.2 998.6L513.1 999.5L515.9 1000.3L518.8 1001.2L521.7 1002.1L524.5 1003.0L527.4 1004.0L530.2 1004.9L533.1 1005.9L535.9 1006.9L538.8 1007.9L541.6 1008.9L544.4 1009.9L547.2 1010.9L550.1 1011.9L552.9 1012.9L555.7 1013.9L558.5 1014.9L561.4 1015.9L564.2 1016.9L567.0 1017.9L569.8 1018.9L572.7 1019.9L575.5 1020.8L578.3 1021.8L581.2 1022.7L584.0 1023.6L586.9 1024.5L589.7 1025.4L592.6 1026.2L595.5 1027.0L598.3 1027.9L601.2 1028.7L604.1 1029.4L607.0 1030.2L609.9 1031.0L612.8 1031.7L615.7 1032.4L618.6 1033.1L621.5 1033.8L624.4 1034.5L627.3 1035.2L630.2 1035.8L633.2 1036.5L636.1 1037.1L639.0 1037.7L641.9 1038.3L644.9 1038.9L647.8 1039.5L650.8 1040.0L653.7 1040.6L656.6 1041.2L659.6 1041.7L662.5 1042.2L665.5 1042.8L668.5 1043.3L671.4 1043.8L674.4 1044.3L677.3 1044.8L680.3 1045.3L683.3 1045.7L686.2 1046.2L689.2 1046.7L692.2 1047.1L695.1 1047.6L698.1 1048.0L701.1 1048.5L704.1 1048.9L707.0 1049.4L710.0 1049.8L713.0 1050.2L716.0 1050.7L718.9 1051.1L721.9 1051.5L724.9 1051.9L727.9 1052.4L730.8 1052.8L733.8 1053.2L736.8 1053.6L739.8 1054.0L742.7 1054.5L745.7 1054.9L748.7 1055.3L751.7 1055.7L754.6 1056.2L757.6 1056.6L760.6 1057.0L763.5 1057.5L766.5 1057.9L769.5 1058.3L772.4 1058.8L775.4 1059.2L778.4 1059.6L781.3 1060.1L784.3 1060.5L787.3 1060.9L790.2 1061.4L793.2 1061.8L796.2 1062.3L799.1 1062.7L802.1 1063.1L805.0 1063.6L808.0 1064.0L811.0 1064.5L813.9 1064.9L816.9 1065.4L819.9 1065.8L822.8 1066.3L825.8 1066.7L828.7 1067.2L831.7 1067.6L834.7 1068.1L837.6 1068.5L840.6 1068.9L843.5 1069.4L846.5 1069.8L849.5 1070.3L852.4 1070.7L855.4 1071.2L858.3 1071.6L861.3 1072.1L864.3 1072.5L867.2 1073.0L870.2 1073.4L873.1 1073.9L876.1 1074.3L879.1 1074.8L882.0 1075.2L885.0 1075.7L887.9 1076.1L890.9 1076.5L893.9 1077.0L896.8 1077.4L899.8 1077.9L902.7 1078.3L905.7 1078.7L908.7 1079.2L911.6 1079.6L914.6 1080.1L917.6 1080.5L920.5 1080.9L923.5 1081.4L926.5 1081.8L929.4 1082.2L932.4 1082.7L935.4 1083.1L938.3 1083.5L941.3 1083.9L944.3 1084.4L947.3 1084.8L950.2 1085.2L953.2 1085.6L956.2 1086.1L959.1 1086.5L962.1 1086.9L965.1 1087.3L968.1 1087.7L971.0 1088.1L974.0 1088.5L977.0 1088.9L980.0 1089.3L982.9 1089.7L985.9 1090.1L988.9 1090.5L991.9 1090.8L994.9 1091.2L997.8 1091.6L1000.8 1092.0L1003.8 1092.3L1006.8 1092.7L1009.7 1093.0L1012.7 1093.4L1015.7 1093.7L1018.7 1094.0L1021.7 1094.4L1024.6 1094.7L1027.6 1095.0L1030.6 1095.3L1033.6 1095.6L1036.5 1095.9L1039.5 1096.2L1042.5 1096.5L1045.5 1096.8L1048.5 1097.1L1051.5 1097.4L1054.4 1097.6L1057.4 1097.9L1060.4 1098.1L1063.4 1098.4L1066.4 1098.6L1069.4 1098.8L1072.4 1099.1L1075.3 1099.3L1078.3 1099.5L1081.3 1099.7L1084.3 1099.9L1087.3 1100.0L1090.3 1100.2L1093.3 1100.4L1096.3 1100.5L1099.3 1100.7L1102.3 1100.9L1105.3 1101.0L1108.3 1101.2L1111.3 1101.3L1114.3 1101.5L1117.2 1101.6L1120.2 1101.7L1123.2 1101.9L1126.2 1102.1L1129.2 1102.2L1132.2 1102.4L1135.2 1102.5L1138.2 1102.7L1141.2 1102.9L1144.2 1103.1L1147.2 1103.3L1150.2 1103.5L1153.2 1103.7L1156.2 1103.9L1159.1 1104.2L1162.1 1104.4L1165.1 1104.7L1168.1 1105.0L1171.1 1105.3L1174.1 1105.6L1177.0 1105.9L1180.0 1106.2L1183.0 1106.6L1186.0 1106.9L1189.0 1107.3L1191.9 1107.6L1194.9 1108.0L1197.9 1108.4L1200.9 1108.7L1203.8 1109.1L1206.8 1109.5L1209.8 1109.8L1212.8 1110.2L1215.7 1110.5L1218.7 1110.9L1221.7 1111.2L1224.7 1111.6L1227.7 1111.9L1230.6 1112.2L1233.6 1112.5L1236.6 1112.8L1239.6 1113.1L1242.6 1113.3L1245.6 1113.6L1248.5 1113.8L1251.5 1114.0L1254.5 1114.3L1257.5 1114.5L1260.5 1114.7L1263.5 1114.9L1266.5 1115.1L1269.5 1115.2L1272.5 1115.4L1275.5 1115.6L1278.5 1115.8L1281.5 1115.9L1284.5 1116.1L1287.4 1116.2L1290.4 1116.4L1293.4 1116.5L1296.4 1116.7L1299.4 1116.8L1302.4 1117.0L1305.4 1117.1L1308.4 1117.2L1311.4 1117.4L1314.4 1117.5L1317.4 1117.7L1320.4 1117.8L1323.4 1117.9L1326.4 1118.1L1329.4 1118.2L1332.4 1118.3L1335.4 1118.5L1338.4 1118.6L1341.4 1118.8L1344.4 1118.9L1347.4 1119.0L1350.3 1119.2L1353.3 1119.3L1356.3 1119.5L1359.3 1119.6L1362.3 1119.8L1365.3 1119.9L1368.3 1120.1L1371.3 1120.3L1374.3 1120.4L1377.3 1120.6L1380.3 1120.8L1383.3 1121.0L1386.3 1121.2L1389.3 1121.3L1392.2 1121.5L1395.2 1121.7L1398.2 1121.9L1401.2 1122.2L1404.2 1122.4L1407.2 1122.6L1410.2 1122.8L1413.2 1123.1L1416.2 1123.3L1419.1 1123.6L1422.1 1123.8L1425.1 1124.1L1428.1 1124.4L1431.1 1124.6L1434.1 1124.9L1437.1 1125.2L1440.0 1125.5L1443.0 1125.8L1446.0 1126.1L1449.0 1126.4L1452.0 1126.7L1455.0 1127.0L1457.9 1127.3L1460.9 1127.6L1463.9 1127.9L1466.9 1128.2L1469.9 1128.5L1472.9 1128.8L1475.8 1129.1L1478.8 1129.4L1481.8 1129.7L1484.8 1130.0L1487.8 1130.2L1490.8 1130.5L1493.8 1130.7L1496.8 1131.0L1499.7 1131.2L1502.7 1131.4L1505.7 1131.7L1508.7 1131.9L1511.7 1132.1L1514.7 1132.3L1517.7 1132.5L1520.7 1132.7L1523.7 1132.9L1526.6 1133.0L1529.6 1133.2L1532.6 1133.4L1535.6 1133.6L1538.6 1133.7L1541.6 1133.9L1544.6 1134.0L1547.6 1134.2L1550.6 1134.3L1553.6 1134.5L1556.6 1134.6L1559.6 1134.7L1562.6 1134.9L1565.6 1135.0L1568.6 1135.1L1571.5 1135.2L1574.5 1135.4L1577.5 1135.5L1580.5 1135.6L1583.5 1135.7L1586.5 1135.8L1589.5 1135.9L1592.5 1136.0L1595.5 1136.1L1598.5 1136.3L1601.5 1136.4L1604.5 1136.5L1607.5 1136.6L1610.5 1136.7L1613.5 1136.8L1616.5 1136.9L1619.5 1137.0L1622.5 1137.1L1625.5 1137.2L1628.5 1137.3L1631.5 1137.4L1634.5 1137.5L1637.5 1137.6L1640.5 1137.7L1643.5 1137.8L1646.5 1137.9L1649.4 1138.0L1652.4 1138.1L1655.4 1138.3L1658.4 1138.4L1661.4 1138.5L1664.4 1138.6L1667.4 1138.7L1670.4 1138.9L1673.4 1139.0L1676.4 1139.1L1679.4 1139.3L1682.4 1139.4L1685.4 1139.6L1688.4 1139.7L1691.4 1139.8L1694.4 1140.0L1697.4 1140.1L1700.4 1140.3L1703.4 1140.5L1706.3 1140.6L1709.3 1140.8L1712.3 1140.9L1715.3 1141.1L1718.3 1141.3L1721.3 1141.4L1724.3 1141.6L1727.3 1141.8L1730.3 1141.9L1733.3 1142.1L1736.3 1142.3L1739.3 1142.4L1742.3 1142.6L1745.3 1142.8L1748.2 1142.9L1751.2 1143.1L1754.2 1143.3L1757.2 1143.5L1760.2 1143.6L1763.2 1143.8L1766.2 1144.0L1769.2 1144.1L1772.2 1144.3L1775.2 1144.5L1778.2 1144.6L1781.2 1144.8L1784.2 1145.0L1787.1 1145.1L1790.1 1145.3L1793.1 1145.5L1796.1 1145.6L1799.1 1145.8L1802.1 1146.0L1805.1 1146.1L1808.1 1146.3L1811.1 1146.4L1814.1 1146.6L1817.1 1146.7L1820.1 1146.9L1823.1 1147.0L1826.1 1147.1L1829.1 1147.3L1832.1 1147.4L1835.1 1147.6L1838.0 1147.7L1841.0 1147.8L1844.0 1147.9L1847.0 1148.1L1850.0 1148.2L1853.0 1148.3L1856.0 1148.4L1859.0 1148.5L1862.0 1148.6L1865.0 1148.7L1868.0 1148.8L1871.0 1148.9L1874.0 1149.0L1877.0 1149.1L1880.0 1149.1L1883.0 1149.2"/>
</g>
<g stroke-width="9.6" stroke-linecap="round" fill="none">
<line x1="1534.5" y1="91.7" x2="1666.8" y2="91.7" stroke="#ff0000"/>
<line x1="1534.5" y1="165.2" x2="1666.8" y2="165.2" stroke="#00ff00"/>
<line x1="1534.5" y1="238.7" x2="1666.8" y2="238.7" stroke="#0000ff"/>
<line x1="1534.5" y1="312.2" x2="1666.8" y2="312.2" stroke="#00ffff"/>
<line x1="1534.5" y1="385.7" x2="1666.8" y2="385.7" stroke="#ff00ff"/>
<line x1="1534.5" y1="459.2" x2="1666.8" y2="459.2" stroke="#ffff00"/>
<line x1="1534.5" y1="532.7" x2="1666.8" y2="532.7" stroke="#808000"/>
<line x1="1534.5" y1="606.2" x2="1666.8" y2="606.2" stroke="#000080"/>
</g>
<g class="b" font-size="46">
<text transform="translate(1677.8 112.3) scale(1 1.04)">L=0.9<tspan class="mu" font-size="38" dx="1.5">μ</tspan><tspan dx="0.3">m</tspan></text>
<text transform="translate(1677.8 185.8) scale(1 1.04)">L=<tspan class="o" dx="1">1</tspan><tspan dx="-1">.2</tspan><tspan class="mu" font-size="38" dx="1.5">μ</tspan><tspan dx="0.3">m</tspan></text>
<text transform="translate(1677.8 259.3) scale(1 1.04)">L=<tspan class="o" dx="1">1</tspan><tspan dx="-1">.5</tspan><tspan class="mu" font-size="38" dx="1.5">μ</tspan><tspan dx="0.3">m</tspan></text>
<text transform="translate(1677.8 332.8) scale(1 1.04)">L=<tspan class="o" dx="1">1</tspan><tspan dx="-1">.8</tspan><tspan class="mu" font-size="38" dx="1.5">μ</tspan><tspan dx="0.3">m</tspan></text>
<text transform="translate(1677.8 406.3) scale(1 1.04)">L=2.<tspan class="o" dx="1">1</tspan><tspan class="mu" font-size="38" dx="0.5">μ</tspan><tspan dx="0.3">m</tspan></text>
<text transform="translate(1677.8 479.8) scale(1 1.04)">L=2.4<tspan class="mu" font-size="38" dx="1.5">μ</tspan><tspan dx="0.3">m</tspan></text>
<text transform="translate(1677.8 553.3) scale(1 1.04)">L=2.7<tspan class="mu" font-size="38" dx="1.5">μ</tspan><tspan dx="0.3">m</tspan></text>
<text transform="translate(1677.8 626.8) scale(1 1.04)">L=3.0<tspan class="mu" font-size="38" dx="1.5">μ</tspan><tspan dx="0.3">m</tspan></text>
</g>
<g fill="#fff"><rect x="188.65" y="1038.10" width="9.50" height="5.80"/><rect x="202.44" y="1038.10" width="9.12" height="5.80"/><rect x="161.67" y="669.10" width="9.50" height="5.80"/><rect x="175.46" y="669.10" width="9.12" height="5.80"/><rect x="121.23" y="300.10" width="9.50" height="5.80"/><rect x="135.02" y="300.10" width="9.12" height="5.80"/><rect x="493.26" y="150.21" width="8.84" height="6.69"/><rect x="508.41" y="150.21" width="8.25" height="6.69"/><rect x="543.58" y="125.94" width="5.94" height="4.96"/><rect x="553.50" y="125.94" width="5.57" height="4.96"/><rect x="1735.63" y="179.92" width="8.84" height="6.88"/><rect x="1750.79" y="179.92" width="8.25" height="6.88"/><rect x="1735.63" y="253.42" width="8.84" height="6.88"/><rect x="1750.79" y="253.42" width="8.25" height="6.88"/><rect x="1735.63" y="326.92" width="8.84" height="6.88"/><rect x="1750.79" y="326.92" width="8.25" height="6.88"/><rect x="1773.99" y="400.42" width="8.84" height="6.88"/><rect x="1789.14" y="400.42" width="8.25" height="6.88"/></g>
</g>
</svg></body></html>
